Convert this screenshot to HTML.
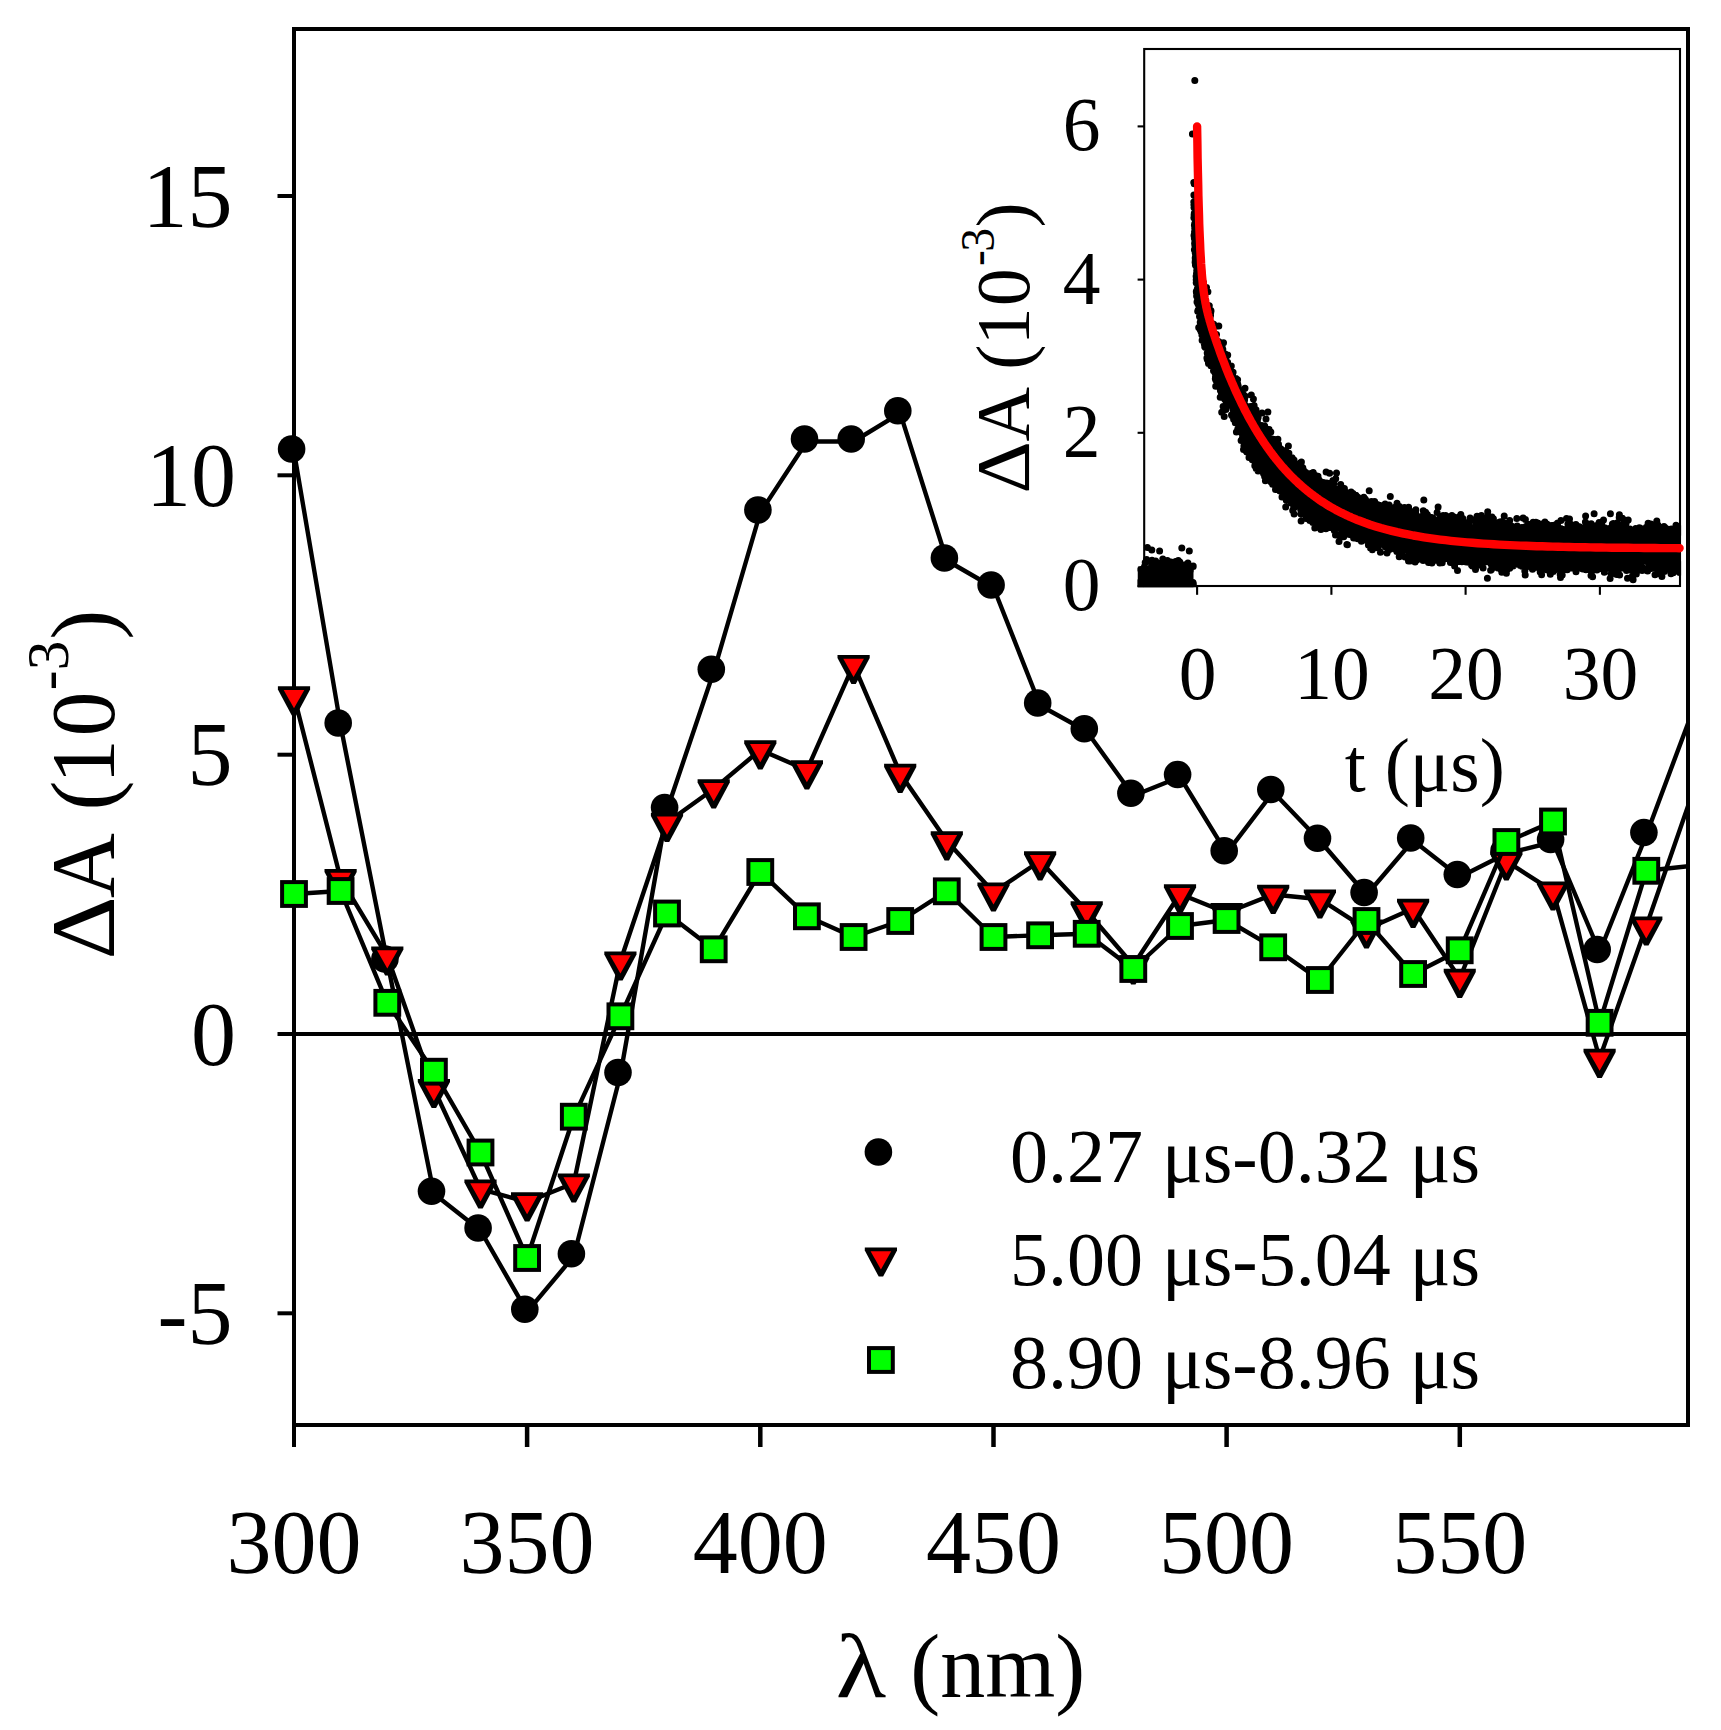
<!DOCTYPE html>
<html lang="en"><head><meta charset="utf-8"><title>Transient absorption spectra</title>
<style>html,body{margin:0;padding:0;background:#fff}svg{display:block}text{font-family:"Liberation Serif", "DejaVu Serif", serif;fill:#000}</style></head><body>
<svg width="1721" height="1730" viewBox="0 0 1721 1730">
<rect width="1721" height="1730" fill="#fff"/>
<defs>
<clipPath id="cm"><rect x="270.0" y="29.0" width="1418.0" height="1396.0"/></clipPath>
<clipPath id="ci"><rect x="1137.5" y="40" width="543.6" height="547.2"/></clipPath>
</defs>
<g stroke="#000" fill="none">
<rect x="294.0" y="29.0" width="1394.0" height="1396.0" stroke-width="4"/>
<line x1="277.5" y1="196.0" x2="294.0" y2="196.0" stroke-width="4"/>
<line x1="277.5" y1="475.3" x2="294.0" y2="475.3" stroke-width="4"/>
<line x1="277.5" y1="754.7" x2="294.0" y2="754.7" stroke-width="4"/>
<line x1="277.5" y1="1034.0" x2="294.0" y2="1034.0" stroke-width="4"/>
<line x1="277.5" y1="1313.3" x2="294.0" y2="1313.3" stroke-width="4"/>
<line x1="294.0" y1="1425.0" x2="294.0" y2="1447" stroke-width="4.0"/>
<line x1="527.1" y1="1425.0" x2="527.1" y2="1447" stroke-width="4.5"/>
<line x1="760.3" y1="1425.0" x2="760.3" y2="1447" stroke-width="4.5"/>
<line x1="993.5" y1="1425.0" x2="993.5" y2="1447" stroke-width="4.5"/>
<line x1="1226.6" y1="1425.0" x2="1226.6" y2="1447" stroke-width="4.5"/>
<line x1="1459.8" y1="1425.0" x2="1459.8" y2="1447" stroke-width="4.5"/>
</g>
<g clip-path="url(#cm)">
<line x1="294.0" y1="1034.0" x2="1688.0" y2="1034.0" stroke="#000" stroke-width="4"/>
<polyline points="294.0,451.5 340.6,725.5 387.3,961.5 433.9,1193.8 480.5,1230.5 527.1,1311.8 573.8,1256.2 620.4,1075.0 667.0,810.0 713.7,671.8 760.3,512.5 806.9,441.5 853.6,441.5 900.2,413.2 946.8,560.5 993.5,587.5 1040.1,705.5 1086.7,731.2 1133.3,795.8 1180.0,777.0 1226.6,853.2 1273.2,792.0 1319.9,840.8 1366.5,895.0 1413.1,840.5 1459.8,877.0 1506.4,853.5 1553.0,842.0 1599.6,952.0 1646.3,835.0 1692.9,710.3" fill="none" stroke="#000" stroke-width="4.4" stroke-linejoin="round"/>
<g fill="#000">
<circle cx="291.6" cy="449.0" r="13.8"/>
<circle cx="338.2" cy="723.0" r="13.8"/>
<circle cx="384.9" cy="959.0" r="13.8"/>
<circle cx="431.5" cy="1191.2" r="13.8"/>
<circle cx="478.1" cy="1228.0" r="13.8"/>
<circle cx="524.8" cy="1309.2" r="13.8"/>
<circle cx="571.4" cy="1253.8" r="13.8"/>
<circle cx="618.0" cy="1072.5" r="13.8"/>
<circle cx="664.6" cy="807.5" r="13.8"/>
<circle cx="711.3" cy="669.2" r="13.8"/>
<circle cx="757.9" cy="510.0" r="13.8"/>
<circle cx="804.5" cy="439.0" r="13.8"/>
<circle cx="851.2" cy="439.0" r="13.8"/>
<circle cx="897.8" cy="410.8" r="13.8"/>
<circle cx="944.4" cy="558.0" r="13.8"/>
<circle cx="991.1" cy="585.0" r="13.8"/>
<circle cx="1037.7" cy="703.0" r="13.8"/>
<circle cx="1084.3" cy="728.8" r="13.8"/>
<circle cx="1130.9" cy="793.2" r="13.8"/>
<circle cx="1177.6" cy="774.5" r="13.8"/>
<circle cx="1224.2" cy="850.8" r="13.8"/>
<circle cx="1270.8" cy="789.5" r="13.8"/>
<circle cx="1317.5" cy="838.2" r="13.8"/>
<circle cx="1364.1" cy="892.5" r="13.8"/>
<circle cx="1410.7" cy="838.0" r="13.8"/>
<circle cx="1457.3" cy="874.5" r="13.8"/>
<circle cx="1504.0" cy="851.0" r="13.8"/>
<circle cx="1550.6" cy="839.5" r="13.8"/>
<circle cx="1597.2" cy="949.5" r="13.8"/>
<circle cx="1643.9" cy="832.5" r="13.8"/>
</g>
<polyline points="294.0,696.0 340.6,878.7 387.3,956.2 433.9,1088.7 480.5,1189.2 527.1,1202.0 573.8,1183.2 620.4,961.2 667.0,822.5 713.7,789.0 760.3,750.0 806.9,770.0 853.6,664.7 900.2,773.5 946.8,841.0 993.5,892.2 1040.1,861.0 1086.7,911.0 1133.3,965.2 1180.0,894.0 1226.6,912.8 1273.2,894.5 1319.9,899.2 1366.5,929.2 1413.1,908.5 1459.8,978.5 1506.4,861.2 1553.0,891.2 1599.6,1058.5 1646.3,926.2 1692.9,792.0" fill="none" stroke="#000" stroke-width="4.4" stroke-linejoin="round"/>
<path d="M277.9 686.2V689.4L291.8 715.4H296.2L310.1 689.4V686.2Z" fill="#000"/><path d="M283.7 690.1H304.3L294.0 708.2Z" fill="#f00"/>
<path d="M324.5 868.9V872.1L338.4 898.1H342.8L356.7 872.1V868.9Z" fill="#000"/><path d="M330.3 872.8H350.9L340.6 891.0Z" fill="#f00"/>
<path d="M371.2 946.4V949.6L385.1 975.6H389.5L403.4 949.6V946.4Z" fill="#000"/><path d="M377.0 950.3H397.6L387.3 968.5Z" fill="#f00"/>
<path d="M417.8 1078.9V1082.1L431.7 1108.1H436.1L450.0 1082.1V1078.9Z" fill="#000"/><path d="M423.6 1082.8H444.2L433.9 1101.0Z" fill="#f00"/>
<path d="M464.4 1179.4V1182.6L478.3 1208.6H482.7L496.6 1182.6V1179.4Z" fill="#000"/><path d="M470.2 1183.3H490.8L480.5 1201.5Z" fill="#f00"/>
<path d="M511.0 1192.2V1195.4L524.9 1221.4H529.4L543.2 1195.4V1192.2Z" fill="#000"/><path d="M516.9 1196.0H537.4L527.1 1214.2Z" fill="#f00"/>
<path d="M557.7 1173.4V1176.6L571.6 1202.6H576.0L589.9 1176.6V1173.4Z" fill="#000"/><path d="M563.5 1177.3H584.1L573.8 1195.5Z" fill="#f00"/>
<path d="M604.3 951.4V954.6L618.2 980.6H622.6L636.5 954.6V951.4Z" fill="#000"/><path d="M610.1 955.3H630.7L620.4 973.5Z" fill="#f00"/>
<path d="M650.9 812.7V815.9L664.8 841.9H669.2L683.1 815.9V812.7Z" fill="#000"/><path d="M656.7 816.6H677.3L667.0 834.8Z" fill="#f00"/>
<path d="M697.6 779.2V782.4L711.5 808.4H715.9L729.8 782.4V779.2Z" fill="#000"/><path d="M703.4 783.1H724.0L713.7 801.2Z" fill="#f00"/>
<path d="M744.2 740.2V743.4L758.1 769.4H762.5L776.4 743.4V740.2Z" fill="#000"/><path d="M750.0 744.1H770.6L760.3 762.2Z" fill="#f00"/>
<path d="M790.8 760.2V763.4L804.7 789.4H809.1L823.0 763.4V760.2Z" fill="#000"/><path d="M796.6 764.1H817.2L806.9 782.2Z" fill="#f00"/>
<path d="M837.5 654.9V658.1L851.4 684.1H855.8L869.7 658.1V654.9Z" fill="#000"/><path d="M843.3 658.8H863.9L853.6 677.0Z" fill="#f00"/>
<path d="M884.1 763.7V766.9L898.0 792.9H902.4L916.3 766.9V763.7Z" fill="#000"/><path d="M889.9 767.6H910.5L900.2 785.8Z" fill="#f00"/>
<path d="M930.7 831.2V834.4L944.6 860.4H949.0L962.9 834.4V831.2Z" fill="#000"/><path d="M936.5 835.1H957.1L946.8 853.2Z" fill="#f00"/>
<path d="M977.4 882.4V885.6L991.2 911.6H995.7L1009.6 885.6V882.4Z" fill="#000"/><path d="M983.2 886.3H1003.8L993.5 904.5Z" fill="#f00"/>
<path d="M1024.0 851.2V854.4L1037.9 880.4H1042.3L1056.2 854.4V851.2Z" fill="#000"/><path d="M1029.8 855.1H1050.4L1040.1 873.2Z" fill="#f00"/>
<path d="M1070.6 901.2V904.4L1084.5 930.4H1088.9L1102.8 904.4V901.2Z" fill="#000"/><path d="M1076.4 905.1H1097.0L1086.7 923.2Z" fill="#f00"/>
<path d="M1117.2 955.4V958.6L1131.1 984.6H1135.5L1149.4 958.6V955.4Z" fill="#000"/><path d="M1123.0 959.3H1143.6L1133.3 977.5Z" fill="#f00"/>
<path d="M1163.9 884.2V887.4L1177.8 913.4H1182.2L1196.1 887.4V884.2Z" fill="#000"/><path d="M1169.7 888.1H1190.3L1180.0 906.2Z" fill="#f00"/>
<path d="M1210.5 903.0V906.2L1224.4 932.2H1228.8L1242.7 906.2V903.0Z" fill="#000"/><path d="M1216.3 906.9H1236.9L1226.6 925.1Z" fill="#f00"/>
<path d="M1257.1 884.7V887.9L1271.0 913.9H1275.4L1289.3 887.9V884.7Z" fill="#000"/><path d="M1262.9 888.6H1283.5L1273.2 906.8Z" fill="#f00"/>
<path d="M1303.8 889.4V892.6L1317.7 918.6H1322.1L1336.0 892.6V889.4Z" fill="#000"/><path d="M1309.6 893.3H1330.2L1319.9 911.5Z" fill="#f00"/>
<path d="M1350.4 919.4V922.6L1364.3 948.6H1368.7L1382.6 922.6V919.4Z" fill="#000"/><path d="M1356.2 923.3H1376.8L1366.5 941.5Z" fill="#f00"/>
<path d="M1397.0 898.7V901.9L1410.9 927.9H1415.3L1429.2 901.9V898.7Z" fill="#000"/><path d="M1402.8 902.6H1423.4L1413.1 920.8Z" fill="#f00"/>
<path d="M1443.7 968.7V971.9L1457.5 997.9H1462.0L1475.8 971.9V968.7Z" fill="#000"/><path d="M1449.5 972.6H1470.0L1459.8 990.8Z" fill="#f00"/>
<path d="M1490.3 851.4V854.6L1504.2 880.6H1508.6L1522.5 854.6V851.4Z" fill="#000"/><path d="M1496.1 855.3H1516.7L1506.4 873.5Z" fill="#f00"/>
<path d="M1536.9 881.4V884.6L1550.8 910.6H1555.2L1569.1 884.6V881.4Z" fill="#000"/><path d="M1542.7 885.3H1563.3L1553.0 903.5Z" fill="#f00"/>
<path d="M1583.5 1048.7V1051.9L1597.4 1077.9H1601.8L1615.7 1051.9V1048.7Z" fill="#000"/><path d="M1589.3 1052.5H1609.9L1599.6 1070.8Z" fill="#f00"/>
<path d="M1630.2 916.4V919.6L1644.1 945.6H1648.5L1662.4 919.6V916.4Z" fill="#000"/><path d="M1636.0 920.3H1656.6L1646.3 938.5Z" fill="#f00"/>
<polyline points="294.0,894.0 340.6,891.0 387.3,1002.8 433.9,1071.8 480.5,1152.5 527.1,1258.0 573.8,1116.8 620.4,1016.2 667.0,913.5 713.7,949.2 760.3,872.0 806.9,916.2 853.6,937.0 900.2,921.0 946.8,891.2 993.5,937.0 1040.1,935.2 1086.7,933.8 1133.3,969.0 1180.0,926.0 1226.6,920.0 1273.2,947.2 1319.9,980.0 1366.5,921.0 1413.1,974.0 1459.8,950.2 1506.4,842.0 1553.0,821.5 1599.6,1022.8 1646.3,870.8 1692.9,865.8" fill="none" stroke="#000" stroke-width="4.4" stroke-linejoin="round"/>
<g fill="#0f0" stroke="#000" stroke-width="4">
<rect x="282.1" y="882.1" width="23.8" height="23.8"/>
<rect x="328.7" y="879.1" width="23.8" height="23.8"/>
<rect x="375.4" y="990.9" width="23.8" height="23.8"/>
<rect x="422.0" y="1059.8" width="23.8" height="23.8"/>
<rect x="468.6" y="1140.6" width="23.8" height="23.8"/>
<rect x="515.2" y="1246.1" width="23.8" height="23.8"/>
<rect x="561.9" y="1104.8" width="23.8" height="23.8"/>
<rect x="608.5" y="1004.4" width="23.8" height="23.8"/>
<rect x="655.1" y="901.6" width="23.8" height="23.8"/>
<rect x="701.8" y="937.4" width="23.8" height="23.8"/>
<rect x="748.4" y="860.1" width="23.8" height="23.8"/>
<rect x="795.0" y="904.4" width="23.8" height="23.8"/>
<rect x="841.7" y="925.1" width="23.8" height="23.8"/>
<rect x="888.3" y="909.1" width="23.8" height="23.8"/>
<rect x="934.9" y="879.4" width="23.8" height="23.8"/>
<rect x="981.6" y="925.1" width="23.8" height="23.8"/>
<rect x="1028.2" y="923.4" width="23.8" height="23.8"/>
<rect x="1074.8" y="921.9" width="23.8" height="23.8"/>
<rect x="1121.4" y="957.1" width="23.8" height="23.8"/>
<rect x="1168.1" y="914.1" width="23.8" height="23.8"/>
<rect x="1214.7" y="908.1" width="23.8" height="23.8"/>
<rect x="1261.3" y="935.4" width="23.8" height="23.8"/>
<rect x="1308.0" y="968.1" width="23.8" height="23.8"/>
<rect x="1354.6" y="909.1" width="23.8" height="23.8"/>
<rect x="1401.2" y="962.1" width="23.8" height="23.8"/>
<rect x="1447.8" y="938.4" width="23.8" height="23.8"/>
<rect x="1494.5" y="830.1" width="23.8" height="23.8"/>
<rect x="1541.1" y="809.6" width="23.8" height="23.8"/>
<rect x="1587.7" y="1010.9" width="23.8" height="23.8"/>
<rect x="1634.4" y="858.9" width="23.8" height="23.8"/>
</g>
</g>
<g font-size="90.0">
<text x="232.5" y="226.5" text-anchor="end">15</text>
<text x="235.9" y="505.8" text-anchor="end">10</text>
<text x="232.5" y="785.2" text-anchor="end">5</text>
<text x="235.9" y="1064.5" text-anchor="end">0</text>
<text x="232.5" y="1343.8" text-anchor="end">-5</text>
<text x="294.0" y="1573.0" text-anchor="middle">300</text>
<text x="527.1" y="1573.0" text-anchor="middle">350</text>
<text x="760.3" y="1573.0" text-anchor="middle">400</text>
<text x="993.5" y="1573.0" text-anchor="middle">450</text>
<text x="1226.6" y="1573.0" text-anchor="middle">500</text>
<text x="1459.8" y="1573.0" text-anchor="middle">550</text>
<text y="1696.7"><tspan x="835.8" textLength="50.4" lengthAdjust="spacingAndGlyphs">λ</tspan><tspan x="887.7"> (nm)</tspan></text>
<text transform="translate(114.4 784.4) rotate(-90)"><tspan x="-175.1" textLength="63.1" lengthAdjust="spacingAndGlyphs">Δ</tspan><tspan x="-113.6">A</tspan><tspan x="-48.5 -26.0 0.4 47.8"> (10</tspan><tspan x="94.1 114.2" dy="-46.8" font-size="59.4">-3</tspan><tspan x="144.6" dy="46.8">)</tspan></text>
</g>
<circle cx="878.4" cy="1152" r="13.8" fill="#000"/>
<path d="M864.8 1247.4V1250.6L878.7 1276.6H883.1L897.0 1250.6V1247.4Z" fill="#000"/><path d="M870.6 1251.3H891.2L880.9 1269.5Z" fill="#f00"/>
<rect x="869" y="1348.1" width="23.8" height="23.8" fill="#0f0" stroke="#000" stroke-width="4"/>
<g font-size="76.0">
<text x="1010.0" y="1182.3" textLength="470.0" lengthAdjust="spacingAndGlyphs">0.27 μs-0.32 μs</text>
<text x="1010.0" y="1285.1" textLength="470.0" lengthAdjust="spacingAndGlyphs">5.00 μs-5.04 μs</text>
<text x="1010.0" y="1387.9" textLength="470.0" lengthAdjust="spacingAndGlyphs">8.90 μs-8.96 μs</text>
</g>
<g stroke="#000" fill="none" stroke-width="2.1">
<rect x="1144.2" y="49.0" width="535.8" height="537.0"/>
<line x1="1137.6" y1="586.0" x2="1144.2" y2="586.0"/>
<line x1="1137.6" y1="432.8" x2="1144.2" y2="432.8"/>
<line x1="1137.6" y1="279.6" x2="1144.2" y2="279.6"/>
<line x1="1137.6" y1="126.4" x2="1144.2" y2="126.4"/>
<line x1="1197.1" y1="586.0" x2="1197.1" y2="594.8"/>
<line x1="1331.4" y1="586.0" x2="1331.4" y2="594.8"/>
<line x1="1465.6" y1="586.0" x2="1465.6" y2="594.8"/>
<line x1="1599.9" y1="586.0" x2="1599.9" y2="594.8"/>
</g>
<g clip-path="url(#ci)">
<polygon points="1206.5,302.1 1208.1,309.4 1209.7,314.5 1211.3,318.6 1212.9,324.0 1214.6,328.6 1216.2,332.5 1217.8,335.5 1219.4,341.7 1221.0,345.3 1222.6,349.8 1224.2,353.2 1225.8,355.7 1227.4,360.2 1229.1,365.3 1230.7,367.3 1232.3,371.9 1233.9,375.7 1235.5,378.5 1237.1,382.7 1238.7,384.8 1240.3,389.4 1241.9,392.1 1243.6,396.1 1245.2,397.9 1246.8,402.0 1248.4,403.3 1250.0,406.2 1251.6,410.8 1253.2,413.1 1254.8,415.5 1256.4,417.2 1258.1,419.6 1259.7,423.5 1261.3,424.9 1262.9,426.2 1264.5,429.7 1266.1,433.3 1267.7,433.8 1269.3,436.1 1270.9,439.4 1272.6,440.9 1274.2,442.3 1275.8,444.2 1277.4,446.2 1279.0,446.3 1280.6,449.8 1282.2,450.9 1283.8,452.1 1285.4,456.1 1287.1,456.1 1288.7,457.3 1290.3,458.6 1291.9,460.2 1293.5,462.9 1295.1,464.4 1296.7,465.2 1298.3,467.9 1300.0,466.7 1301.6,468.1 1303.2,470.4 1304.8,471.9 1306.4,473.4 1308.0,473.4 1309.6,474.4 1311.2,476.4 1312.8,477.2 1314.5,480.2 1316.1,480.9 1317.7,481.5 1319.3,482.4 1320.9,483.6 1322.5,485.0 1324.1,486.3 1325.7,486.7 1327.3,488.0 1329.0,486.4 1330.6,489.9 1332.2,488.7 1333.8,488.9 1335.4,492.3 1337.0,493.2 1338.6,492.5 1340.2,494.8 1341.8,495.4 1343.5,493.6 1345.1,497.0 1346.7,497.3 1348.3,497.5 1349.9,498.3 1351.5,498.8 1353.1,498.8 1354.7,500.3 1356.3,500.0 1358.0,501.7 1359.6,500.0 1361.2,501.3 1362.8,502.4 1364.4,502.0 1366.0,505.0 1367.6,505.6 1369.2,504.8 1370.8,503.8 1372.5,507.0 1374.1,507.4 1375.7,507.8 1377.3,508.5 1378.9,508.9 1380.5,507.2 1382.1,508.3 1383.7,508.6 1385.3,508.1 1387.0,510.8 1388.6,509.0 1390.2,509.4 1391.8,512.0 1393.4,512.8 1395.0,512.8 1396.6,513.5 1398.2,512.5 1399.8,512.0 1401.5,512.8 1403.1,513.8 1404.7,513.3 1406.3,515.3 1407.9,514.1 1409.5,515.3 1411.1,517.1 1412.7,517.4 1414.3,517.4 1416.0,518.1 1417.6,517.8 1419.2,517.3 1420.8,516.5 1422.4,516.4 1424.0,519.6 1425.6,518.8 1427.2,520.1 1428.9,518.2 1430.5,517.8 1432.1,519.0 1433.7,520.8 1435.3,521.0 1436.9,520.4 1438.5,521.4 1440.1,520.1 1441.7,521.8 1443.4,520.9 1445.0,522.5 1446.6,522.3 1448.2,521.7 1449.8,523.1 1451.4,520.9 1453.0,523.5 1454.6,521.5 1456.2,522.1 1457.9,523.1 1459.5,522.9 1461.1,522.3 1462.7,525.0 1464.3,523.3 1465.9,523.0 1467.5,525.1 1469.1,524.3 1470.7,525.9 1472.4,525.4 1474.0,525.9 1475.6,524.3 1477.2,525.1 1478.8,524.5 1480.4,526.1 1482.0,524.7 1483.6,526.2 1485.2,525.6 1486.9,526.2 1488.5,527.3 1490.1,526.8 1491.7,525.7 1493.3,526.6 1494.9,525.7 1496.5,526.6 1498.1,527.8 1499.7,526.0 1501.4,527.2 1503.0,528.1 1504.6,527.6 1506.2,527.2 1507.8,527.0 1509.4,527.9 1511.0,528.9 1512.6,527.4 1514.2,528.4 1515.9,527.6 1517.5,529.4 1519.1,527.2 1520.7,528.6 1522.3,527.0 1523.9,529.6 1525.5,528.6 1527.1,528.1 1528.7,529.2 1530.4,528.7 1532.0,529.3 1533.6,527.5 1535.2,528.5 1536.8,530.0 1538.4,527.8 1540.0,528.3 1541.6,528.6 1543.2,528.8 1544.9,529.1 1546.5,528.2 1548.1,529.2 1549.7,530.0 1551.3,528.9 1552.9,529.7 1554.5,529.0 1556.1,528.2 1557.7,529.7 1559.4,528.2 1561.0,527.9 1562.6,529.1 1564.2,530.3 1565.8,530.7 1567.4,530.3 1569.0,529.1 1570.6,530.9 1572.3,528.6 1573.9,528.7 1575.5,531.1 1577.1,529.3 1578.7,530.8 1580.3,530.2 1581.9,529.9 1583.5,530.6 1585.1,529.3 1586.8,528.8 1588.4,530.8 1590.0,530.5 1591.6,531.0 1593.2,530.1 1594.8,531.3 1596.4,529.3 1598.0,530.4 1599.6,531.4 1601.3,528.7 1602.9,531.1 1604.5,530.5 1606.1,529.0 1607.7,529.8 1609.3,529.9 1610.9,529.9 1612.5,529.1 1614.1,530.9 1615.8,529.3 1617.4,530.7 1619.0,529.6 1620.6,529.0 1622.2,530.5 1623.8,529.4 1625.4,531.2 1627.0,531.7 1628.6,531.4 1630.3,530.7 1631.9,529.9 1633.5,529.9 1635.1,531.8 1636.7,529.7 1638.3,528.9 1639.9,530.3 1641.5,530.5 1643.1,530.6 1644.8,529.6 1646.4,530.1 1648.0,531.6 1649.6,531.4 1651.2,529.9 1652.8,530.2 1654.4,529.4 1656.0,530.9 1657.6,530.7 1659.3,529.4 1660.9,529.0 1662.5,529.1 1664.1,531.2 1665.7,530.8 1667.3,529.1 1668.9,531.8 1670.5,529.5 1672.1,530.7 1673.8,531.7 1675.4,529.8 1677.0,530.0 1678.6,531.0 1680.2,529.8 1680.2,565.4 1678.6,566.6 1677.0,564.6 1675.4,566.6 1673.8,564.8 1672.1,566.0 1670.5,564.8 1668.9,566.1 1667.3,566.7 1665.7,566.6 1664.1,565.4 1662.5,566.1 1660.9,566.9 1659.3,564.5 1657.6,564.2 1656.0,565.6 1654.4,566.0 1652.8,564.5 1651.2,566.8 1649.6,564.8 1648.0,566.0 1646.4,565.5 1644.8,564.5 1643.1,565.5 1641.5,564.6 1639.9,565.9 1638.3,567.0 1636.7,564.6 1635.1,565.7 1633.5,565.5 1631.9,566.2 1630.3,564.3 1628.6,566.4 1627.0,565.7 1625.4,565.5 1623.8,566.5 1622.2,565.4 1620.6,565.7 1619.0,566.4 1617.4,565.3 1615.8,565.4 1614.1,565.1 1612.5,565.3 1610.9,565.9 1609.3,565.3 1607.7,565.6 1606.1,564.4 1604.5,566.6 1602.9,565.3 1601.3,566.6 1599.6,565.5 1598.0,564.3 1596.4,564.7 1594.8,566.4 1593.2,566.2 1591.6,566.5 1590.0,566.2 1588.4,565.1 1586.8,566.2 1585.1,564.4 1583.5,566.4 1581.9,563.5 1580.3,564.4 1578.7,563.4 1577.1,565.7 1575.5,565.3 1573.9,564.5 1572.3,565.1 1570.6,565.8 1569.0,565.1 1567.4,565.7 1565.8,564.2 1564.2,564.1 1562.6,565.1 1561.0,563.4 1559.4,564.9 1557.7,563.8 1556.1,565.8 1554.5,565.4 1552.9,565.5 1551.3,565.7 1549.7,565.0 1548.1,565.4 1546.5,563.5 1544.9,563.5 1543.2,563.7 1541.6,564.6 1540.0,563.4 1538.4,564.8 1536.8,563.8 1535.2,563.7 1533.6,564.7 1532.0,565.3 1530.4,565.0 1528.7,565.2 1527.1,564.6 1525.5,563.8 1523.9,564.3 1522.3,563.1 1520.7,562.6 1519.1,562.1 1517.5,561.9 1515.9,564.3 1514.2,564.5 1512.6,562.8 1511.0,563.7 1509.4,563.2 1507.8,563.9 1506.2,562.9 1504.6,561.6 1503.0,563.3 1501.4,563.6 1499.7,561.2 1498.1,563.3 1496.5,563.1 1494.9,563.3 1493.3,561.8 1491.7,561.9 1490.1,560.7 1488.5,560.8 1486.9,562.8 1485.2,563.0 1483.6,563.2 1482.0,562.4 1480.4,561.2 1478.8,560.7 1477.2,560.5 1475.6,560.1 1474.0,560.5 1472.4,561.1 1470.7,562.1 1469.1,562.2 1467.5,561.5 1465.9,559.0 1464.3,560.4 1462.7,561.7 1461.1,560.2 1459.5,559.4 1457.9,558.5 1456.2,559.2 1454.6,560.0 1453.0,558.3 1451.4,558.5 1449.8,559.4 1448.2,559.9 1446.6,559.8 1445.0,559.1 1443.4,558.6 1441.7,559.4 1440.1,558.5 1438.5,557.5 1436.9,556.6 1435.3,556.1 1433.7,557.5 1432.1,555.9 1430.5,558.2 1428.9,555.8 1427.2,555.1 1425.6,555.9 1424.0,556.6 1422.4,556.3 1420.8,556.1 1419.2,555.2 1417.6,553.4 1416.0,554.1 1414.3,553.6 1412.7,553.8 1411.1,553.8 1409.5,555.1 1407.9,552.4 1406.3,552.2 1404.7,553.0 1403.1,553.3 1401.5,551.1 1399.8,553.3 1398.2,551.3 1396.6,551.2 1395.0,550.0 1393.4,549.4 1391.8,549.0 1390.2,551.0 1388.6,549.9 1387.0,547.5 1385.3,549.4 1383.7,547.2 1382.1,546.7 1380.5,548.0 1378.9,547.7 1377.3,546.4 1375.7,546.7 1374.1,545.8 1372.5,544.7 1370.8,543.9 1369.2,542.9 1367.6,542.8 1366.0,541.7 1364.4,541.8 1362.8,541.5 1361.2,542.9 1359.6,540.7 1358.0,540.7 1356.3,540.4 1354.7,540.7 1353.1,537.9 1351.5,537.7 1349.9,538.2 1348.3,537.5 1346.7,536.9 1345.1,535.0 1343.5,533.8 1341.8,534.3 1340.2,534.5 1338.6,531.4 1337.0,531.7 1335.4,532.3 1333.8,529.9 1332.2,528.9 1330.6,527.3 1329.0,527.1 1327.3,527.7 1325.7,525.1 1324.1,525.5 1322.5,524.4 1320.9,522.8 1319.3,521.1 1317.7,520.7 1316.1,518.6 1314.5,517.7 1312.8,517.9 1311.2,517.9 1309.6,516.9 1308.0,515.8 1306.4,512.2 1304.8,511.2 1303.2,509.4 1301.6,508.9 1300.0,508.5 1298.3,507.0 1296.7,506.6 1295.1,505.0 1293.5,502.5 1291.9,502.5 1290.3,498.4 1288.7,498.7 1287.1,497.0 1285.4,495.2 1283.8,493.8 1282.2,492.9 1280.6,489.7 1279.0,489.2 1277.4,487.6 1275.8,485.7 1274.2,483.9 1272.6,482.2 1270.9,478.3 1269.3,475.9 1267.7,475.1 1266.1,473.2 1264.5,470.1 1262.9,469.4 1261.3,465.9 1259.7,462.9 1258.1,460.7 1256.4,459.6 1254.8,456.0 1253.2,455.0 1251.6,451.1 1250.0,448.1 1248.4,447.2 1246.8,444.0 1245.2,439.4 1243.6,437.2 1241.9,434.6 1240.3,431.2 1238.7,428.2 1237.1,426.8 1235.5,423.8 1233.9,419.7 1232.3,415.3 1230.7,414.1 1229.1,408.1 1227.4,405.5 1225.8,402.2 1224.2,398.4 1222.6,394.2 1221.0,388.9 1219.4,385.1 1217.8,383.6 1216.2,379.1 1214.6,374.1 1212.9,369.4 1211.3,364.7 1209.7,360.8 1208.1,354.1 1206.5,349.6" fill="#000"/>
<rect x="1137.5" y="568.4" width="56.0" height="20" fill="#000"/>
<path d="M1139.4 588.5h.01M1139.4 588.2h.01M1139.5 589.0h.01M1139.6 588.1h.01M1139.7 583.6h.01M1139.8 582.2h.01M1139.8 584.2h.01M1140.1 590.5h.01M1140.1 583.1h.01M1140.2 586.4h.01M1140.3 583.0h.01M1140.3 582.2h.01M1140.4 569.4h.01M1140.5 592.0h.01M1140.6 589.3h.01M1140.6 587.0h.01M1140.7 583.6h.01M1140.8 590.3h.01M1140.8 591.0h.01M1141.0 583.6h.01M1141.1 585.5h.01M1141.2 589.1h.01M1141.2 587.0h.01M1141.3 586.6h.01M1141.6 582.5h.01M1141.6 584.8h.01M1141.7 591.9h.01M1141.8 590.4h.01M1141.9 591.1h.01M1142.0 583.7h.01M1142.2 582.6h.01M1142.4 584.5h.01M1142.5 583.6h.01M1142.5 570.6h.01M1143.0 587.8h.01M1143.1 570.5h.01M1143.2 587.4h.01M1143.2 582.9h.01M1143.3 584.8h.01M1143.4 590.0h.01M1143.5 585.7h.01M1143.7 590.3h.01M1143.7 587.3h.01M1143.8 587.4h.01M1143.8 588.9h.01M1144.2 582.7h.01M1144.2 584.6h.01M1144.2 584.5h.01M1144.3 587.7h.01M1144.4 583.3h.01M1144.4 586.0h.01M1144.5 566.6h.01M1144.6 582.9h.01M1144.6 590.1h.01M1144.7 589.6h.01M1144.7 586.1h.01M1144.8 589.2h.01M1144.8 582.3h.01M1144.9 568.3h.01M1145.0 583.6h.01M1145.1 583.7h.01M1145.1 590.2h.01M1145.2 583.3h.01M1145.2 591.0h.01M1145.2 562.5h.01M1145.3 582.6h.01M1145.3 591.3h.01M1145.4 587.0h.01M1145.4 588.2h.01M1145.4 586.6h.01M1145.5 590.7h.01M1145.6 586.6h.01M1145.8 589.4h.01M1145.9 589.3h.01M1146.2 584.3h.01M1146.3 587.4h.01M1146.3 584.2h.01M1146.4 584.6h.01M1146.4 586.9h.01M1146.5 588.8h.01M1146.6 559.5h.01M1146.7 588.6h.01M1146.7 584.7h.01M1146.8 583.9h.01M1147.3 586.0h.01M1147.4 570.7h.01M1147.5 587.7h.01M1147.6 586.9h.01M1147.7 591.8h.01M1148.0 587.7h.01M1148.1 584.9h.01M1148.1 584.8h.01M1148.2 588.5h.01M1148.3 589.7h.01M1148.4 582.9h.01M1148.5 591.9h.01M1148.5 586.1h.01M1148.6 585.2h.01M1148.7 586.6h.01M1148.8 570.5h.01M1149.1 586.1h.01M1149.1 587.9h.01M1149.2 586.3h.01M1149.2 591.7h.01M1149.2 583.7h.01M1149.3 568.7h.01M1149.3 585.6h.01M1149.4 587.9h.01M1149.5 591.4h.01M1149.6 591.8h.01M1149.7 585.9h.01M1149.8 584.4h.01M1150.0 591.5h.01M1150.2 587.1h.01M1150.2 582.5h.01M1150.3 582.8h.01M1150.5 588.7h.01M1150.6 583.2h.01M1150.6 590.4h.01M1150.8 582.8h.01M1151.1 588.9h.01M1151.1 590.5h.01M1151.1 567.3h.01M1151.2 562.6h.01M1151.4 567.8h.01M1151.4 587.2h.01M1151.6 586.9h.01M1151.6 583.2h.01M1151.7 586.3h.01M1151.7 587.9h.01M1151.8 589.5h.01M1151.9 585.0h.01M1152.0 560.3h.01M1152.2 569.7h.01M1152.3 586.7h.01M1152.4 582.9h.01M1152.6 568.5h.01M1152.7 583.2h.01M1152.7 584.2h.01M1152.8 589.8h.01M1152.8 565.5h.01M1153.0 569.6h.01M1153.1 568.4h.01M1153.2 583.5h.01M1153.3 586.6h.01M1153.4 587.2h.01M1153.5 582.4h.01M1153.6 584.0h.01M1153.6 589.1h.01M1153.7 585.5h.01M1153.8 586.0h.01M1153.8 587.1h.01M1153.9 584.5h.01M1153.9 586.0h.01M1154.0 584.3h.01M1154.0 587.3h.01M1154.2 587.8h.01M1154.3 585.4h.01M1154.6 589.7h.01M1154.8 584.3h.01M1154.9 586.2h.01M1155.0 570.0h.01M1155.2 587.4h.01M1155.2 588.9h.01M1155.4 588.0h.01M1155.4 561.4h.01M1155.5 588.1h.01M1155.5 585.1h.01M1155.6 561.0h.01M1155.6 589.3h.01M1155.7 585.9h.01M1155.8 584.2h.01M1155.9 582.5h.01M1156.0 585.8h.01M1156.1 584.0h.01M1156.1 585.5h.01M1156.2 588.3h.01M1156.3 586.0h.01M1156.4 590.2h.01M1156.6 586.5h.01M1156.6 588.2h.01M1156.7 568.4h.01M1156.9 587.8h.01M1157.1 586.5h.01M1157.3 585.7h.01M1157.4 583.6h.01M1157.6 590.9h.01M1157.7 586.8h.01M1157.7 585.9h.01M1157.9 586.2h.01M1157.9 587.9h.01M1158.0 589.0h.01M1158.0 586.6h.01M1158.1 582.6h.01M1158.2 586.8h.01M1158.3 587.7h.01M1158.4 585.6h.01M1158.4 584.1h.01M1158.5 584.6h.01M1158.6 588.4h.01M1158.6 589.0h.01M1158.7 586.4h.01M1158.8 587.4h.01M1158.8 586.6h.01M1158.9 583.2h.01M1159.0 589.6h.01M1159.1 587.1h.01M1159.2 590.7h.01M1159.2 585.0h.01M1159.3 590.0h.01M1159.3 563.6h.01M1159.4 589.1h.01M1159.4 584.8h.01M1159.6 583.6h.01M1159.7 563.4h.01M1159.7 582.9h.01M1159.9 587.5h.01M1160.1 583.6h.01M1160.1 565.5h.01M1160.2 588.2h.01M1160.2 585.8h.01M1160.3 585.7h.01M1160.4 583.5h.01M1160.5 569.1h.01M1160.6 569.9h.01M1160.6 585.8h.01M1160.6 583.4h.01M1160.7 590.1h.01M1160.8 590.6h.01M1161.0 586.1h.01M1161.1 586.5h.01M1161.2 583.0h.01M1161.3 591.0h.01M1161.3 564.0h.01M1161.3 586.0h.01M1161.5 586.4h.01M1161.5 568.8h.01M1161.8 590.4h.01M1161.8 586.6h.01M1161.8 589.0h.01M1161.9 587.2h.01M1162.0 585.8h.01M1162.0 586.7h.01M1162.1 583.0h.01M1162.2 588.2h.01M1162.2 584.5h.01M1162.3 590.7h.01M1162.4 587.1h.01M1162.4 590.5h.01M1162.5 589.4h.01M1162.6 583.2h.01M1162.7 565.7h.01M1162.8 585.9h.01M1162.8 559.0h.01M1162.9 591.0h.01M1162.9 584.4h.01M1163.0 584.5h.01M1163.0 588.3h.01M1163.1 582.5h.01M1163.1 585.5h.01M1163.3 586.0h.01M1163.6 583.0h.01M1163.6 587.0h.01M1163.7 586.3h.01M1163.8 591.1h.01M1163.8 587.0h.01M1164.0 568.0h.01M1164.0 591.4h.01M1164.1 584.6h.01M1164.1 587.5h.01M1164.2 582.9h.01M1164.3 586.2h.01M1164.3 586.1h.01M1164.6 587.3h.01M1164.6 582.5h.01M1164.7 588.0h.01M1164.8 591.5h.01M1164.9 582.8h.01M1165.0 569.7h.01M1165.1 583.6h.01M1165.1 564.4h.01M1165.1 591.0h.01M1165.4 583.2h.01M1165.4 583.6h.01M1165.5 588.0h.01M1165.5 591.2h.01M1165.6 587.1h.01M1165.6 586.8h.01M1165.7 589.4h.01M1165.8 589.5h.01M1165.9 585.3h.01M1166.0 589.7h.01M1166.1 586.7h.01M1166.1 584.1h.01M1166.2 585.8h.01M1166.3 582.4h.01M1166.4 585.6h.01M1166.4 583.5h.01M1166.5 591.3h.01M1166.5 588.6h.01M1166.6 591.8h.01M1166.7 586.2h.01M1166.8 587.6h.01M1166.8 583.0h.01M1166.9 583.1h.01M1167.0 569.9h.01M1167.0 563.2h.01M1167.1 585.8h.01M1167.2 584.3h.01M1167.4 560.6h.01M1167.5 584.0h.01M1167.5 583.5h.01M1167.6 582.4h.01M1167.6 569.9h.01M1167.7 589.6h.01M1167.8 589.6h.01M1167.9 565.2h.01M1167.9 586.1h.01M1168.0 588.5h.01M1168.0 590.8h.01M1168.2 585.6h.01M1168.2 585.4h.01M1168.2 587.7h.01M1168.4 587.4h.01M1168.4 587.5h.01M1168.7 582.7h.01M1168.7 570.5h.01M1168.8 582.8h.01M1168.9 584.1h.01M1168.9 587.4h.01M1169.0 585.7h.01M1169.0 588.8h.01M1169.1 582.6h.01M1169.1 585.2h.01M1169.2 589.6h.01M1169.2 586.4h.01M1169.3 590.1h.01M1169.4 589.5h.01M1169.5 587.2h.01M1169.6 589.1h.01M1169.6 569.8h.01M1169.7 585.6h.01M1169.8 584.0h.01M1169.8 586.7h.01M1169.9 584.9h.01M1169.9 562.9h.01M1170.0 591.6h.01M1170.2 588.7h.01M1170.4 591.4h.01M1170.5 589.9h.01M1170.6 585.2h.01M1170.6 589.8h.01M1170.7 585.9h.01M1170.8 582.5h.01M1170.8 583.4h.01M1170.9 562.0h.01M1170.9 564.7h.01M1171.0 586.4h.01M1171.2 588.6h.01M1171.3 585.0h.01M1171.4 586.2h.01M1171.5 588.5h.01M1171.5 590.2h.01M1171.7 589.8h.01M1171.7 586.5h.01M1171.8 585.9h.01M1171.9 569.5h.01M1172.0 590.1h.01M1172.1 567.7h.01M1172.1 586.3h.01M1172.3 586.3h.01M1172.4 583.2h.01M1172.5 584.0h.01M1172.7 588.2h.01M1172.8 590.0h.01M1172.9 587.0h.01M1172.9 569.3h.01M1173.0 587.5h.01M1173.1 584.1h.01M1173.3 586.4h.01M1173.3 589.8h.01M1173.4 591.3h.01M1173.5 585.4h.01M1173.5 588.7h.01M1173.5 591.6h.01M1173.6 588.5h.01M1173.7 582.6h.01M1173.8 584.3h.01M1173.9 588.7h.01M1173.9 589.2h.01M1174.2 563.7h.01M1174.2 590.8h.01M1174.3 564.6h.01M1174.4 590.2h.01M1174.5 586.9h.01M1174.6 565.2h.01M1174.6 585.2h.01M1174.8 591.6h.01M1174.9 584.6h.01M1174.9 584.9h.01M1175.3 588.9h.01M1175.5 584.4h.01M1175.6 561.4h.01M1175.7 589.2h.01M1175.7 585.7h.01M1175.8 590.3h.01M1175.9 583.4h.01M1175.9 591.1h.01M1176.0 584.5h.01M1176.1 583.1h.01M1176.2 591.4h.01M1176.2 584.1h.01M1176.3 587.1h.01M1176.4 589.2h.01M1176.6 582.8h.01M1176.6 585.9h.01M1176.6 588.7h.01M1176.7 583.5h.01M1176.7 590.1h.01M1176.8 591.8h.01M1176.9 591.9h.01M1177.1 582.6h.01M1177.2 584.0h.01M1177.3 585.5h.01M1177.3 584.6h.01M1177.4 591.9h.01M1177.4 584.4h.01M1177.4 590.5h.01M1177.5 585.2h.01M1177.7 588.8h.01M1177.7 586.2h.01M1177.8 588.6h.01M1177.8 589.0h.01M1177.8 587.7h.01M1177.9 589.2h.01M1177.9 586.2h.01M1178.0 586.2h.01M1178.1 587.6h.01M1178.1 566.0h.01M1178.2 588.0h.01M1178.3 560.4h.01M1178.4 584.8h.01M1178.5 588.9h.01M1178.6 582.4h.01M1178.7 585.8h.01M1178.7 591.7h.01M1178.8 590.7h.01M1178.8 583.8h.01M1178.9 590.9h.01M1179.0 586.3h.01M1179.0 584.0h.01M1179.1 586.3h.01M1179.2 584.6h.01M1179.3 566.8h.01M1179.5 592.0h.01M1179.8 561.9h.01M1179.8 567.4h.01M1179.9 583.8h.01M1180.0 586.8h.01M1180.2 591.6h.01M1180.2 583.9h.01M1180.2 586.1h.01M1180.3 589.0h.01M1180.3 582.9h.01M1180.5 586.2h.01M1180.6 585.5h.01M1180.7 584.8h.01M1180.8 587.6h.01M1180.9 587.2h.01M1181.0 587.7h.01M1181.0 585.9h.01M1181.2 583.9h.01M1181.2 591.5h.01M1181.3 589.5h.01M1181.4 569.0h.01M1181.5 585.8h.01M1181.8 585.0h.01M1181.9 589.4h.01M1182.1 585.8h.01M1182.1 565.1h.01M1182.2 582.8h.01M1182.2 591.9h.01M1182.3 570.3h.01M1182.4 585.1h.01M1182.5 587.9h.01M1182.7 586.6h.01M1182.7 583.7h.01M1182.7 591.5h.01M1182.8 589.0h.01M1182.9 566.7h.01M1182.9 582.9h.01M1183.0 567.4h.01M1183.1 585.3h.01M1183.1 586.3h.01M1183.2 586.5h.01M1183.3 585.3h.01M1183.3 585.7h.01M1183.4 583.3h.01M1183.6 587.8h.01M1183.7 589.4h.01M1183.7 583.2h.01M1183.8 587.3h.01M1183.9 587.5h.01M1183.9 584.8h.01M1184.0 587.2h.01M1184.0 586.5h.01M1184.1 586.9h.01M1184.2 586.2h.01M1184.3 591.9h.01M1184.3 584.6h.01M1184.4 565.0h.01M1184.6 582.5h.01M1184.8 589.5h.01M1184.9 582.8h.01M1185.0 567.3h.01M1185.0 584.6h.01M1185.1 584.2h.01M1185.1 568.6h.01M1185.2 589.0h.01M1185.3 583.2h.01M1185.3 585.5h.01M1185.3 590.8h.01M1185.4 591.2h.01M1185.7 568.2h.01M1185.8 566.1h.01M1186.0 584.1h.01M1186.0 584.3h.01M1186.2 591.4h.01M1186.2 591.8h.01M1186.3 582.5h.01M1186.3 583.4h.01M1186.3 585.7h.01M1186.4 590.3h.01M1186.5 585.0h.01M1186.6 589.1h.01M1186.7 591.7h.01M1186.8 588.6h.01M1186.9 584.1h.01M1187.2 587.6h.01M1187.2 583.3h.01M1187.2 589.2h.01M1187.3 583.5h.01M1187.3 591.3h.01M1187.4 585.9h.01M1187.4 584.0h.01M1187.5 585.7h.01M1187.6 585.1h.01M1187.8 587.5h.01M1187.9 562.9h.01M1187.9 587.4h.01M1188.0 589.5h.01M1188.2 591.5h.01M1188.4 582.8h.01M1188.5 588.6h.01M1188.5 584.3h.01M1188.6 587.4h.01M1188.6 583.9h.01M1188.8 584.9h.01M1188.9 589.2h.01M1189.0 585.7h.01M1189.1 591.0h.01M1189.2 570.6h.01M1189.4 584.1h.01M1189.6 590.7h.01M1189.6 583.1h.01M1189.7 591.4h.01M1189.8 582.8h.01M1189.8 585.9h.01M1189.9 591.7h.01M1189.9 586.8h.01M1190.0 588.9h.01M1190.1 570.6h.01M1190.1 588.4h.01M1190.1 566.2h.01M1190.3 568.9h.01M1190.3 587.7h.01M1190.4 587.1h.01M1190.6 587.9h.01M1190.6 584.4h.01M1190.8 590.0h.01M1191.1 591.6h.01M1191.3 582.7h.01M1191.3 589.5h.01M1191.4 583.7h.01M1191.6 591.2h.01M1191.8 582.9h.01M1191.8 591.0h.01M1191.9 591.3h.01M1192.2 584.3h.01M1192.3 584.3h.01M1192.4 583.1h.01M1192.6 590.3h.01M1192.7 589.9h.01M1192.8 587.1h.01M1193.0 582.4h.01M1193.2 566.0h.01M1193.2 566.6h.01M1193.2 588.0h.01M1193.3 583.4h.01M1193.3 587.5h.01M1193.4 585.2h.01M1193.8 201.9h.01M1193.8 182.4h.01M1193.9 217.7h.01M1193.9 204.7h.01M1193.9 194.9h.01M1194.0 195.2h.01M1194.0 207.4h.01M1194.0 235.6h.01M1194.1 235.9h.01M1194.1 215.0h.01M1194.2 214.2h.01M1194.2 183.8h.01M1194.2 234.7h.01M1194.3 206.8h.01M1194.3 213.3h.01M1194.4 249.8h.01M1194.4 238.5h.01M1194.4 225.3h.01M1194.5 236.0h.01M1194.5 232.1h.01M1194.6 224.1h.01M1194.6 243.6h.01M1194.6 226.2h.01M1194.7 243.1h.01M1194.7 242.7h.01M1194.7 228.2h.01M1194.8 245.1h.01M1194.8 233.7h.01M1194.9 215.8h.01M1194.9 239.2h.01M1194.9 242.6h.01M1195.0 230.9h.01M1195.0 247.5h.01M1195.1 227.7h.01M1195.1 262.3h.01M1195.1 236.1h.01M1195.2 253.0h.01M1195.2 257.9h.01M1195.2 222.2h.01M1195.3 260.2h.01M1195.3 224.0h.01M1195.4 240.4h.01M1195.4 229.9h.01M1195.4 265.0h.01M1195.5 235.1h.01M1195.5 232.2h.01M1195.6 255.1h.01M1195.6 256.0h.01M1195.6 220.3h.01M1195.7 253.1h.01M1195.7 262.2h.01M1195.8 265.8h.01M1195.8 251.4h.01M1195.8 253.7h.01M1195.9 256.5h.01M1195.9 235.5h.01M1195.9 264.9h.01M1196.0 254.3h.01M1196.0 241.1h.01M1196.1 276.2h.01M1196.1 248.3h.01M1196.1 237.8h.01M1196.2 282.8h.01M1196.2 279.8h.01M1196.3 279.6h.01M1196.3 291.4h.01M1196.3 260.0h.01M1196.4 292.6h.01M1196.4 260.5h.01M1196.4 247.8h.01M1196.5 290.9h.01M1196.5 273.4h.01M1196.6 296.1h.01M1196.6 259.3h.01M1196.6 280.8h.01M1196.7 274.8h.01M1196.7 270.8h.01M1196.8 264.6h.01M1196.8 277.4h.01M1196.8 272.9h.01M1196.9 281.1h.01M1196.9 272.4h.01M1197.0 290.6h.01M1197.0 274.1h.01M1197.0 302.0h.01M1197.1 282.6h.01M1197.1 250.0h.01M1197.1 275.7h.01M1197.2 294.5h.01M1197.2 274.1h.01M1197.3 291.4h.01M1197.3 301.1h.01M1197.3 289.0h.01M1197.4 269.2h.01M1197.4 274.5h.01M1197.5 281.5h.01M1197.5 293.2h.01M1197.5 295.7h.01M1197.6 262.9h.01M1197.6 278.4h.01M1197.6 295.1h.01M1197.7 311.3h.01M1197.7 301.6h.01M1197.8 249.4h.01M1197.8 299.3h.01M1197.8 285.0h.01M1197.9 281.5h.01M1197.9 286.8h.01M1198.0 288.8h.01M1198.0 304.1h.01M1198.0 300.0h.01M1198.1 263.1h.01M1198.1 296.7h.01M1198.2 275.3h.01M1198.2 310.1h.01M1198.2 291.1h.01M1198.3 284.2h.01M1198.3 274.0h.01M1198.3 303.6h.01M1198.4 280.6h.01M1198.4 283.8h.01M1198.5 299.3h.01M1198.5 283.2h.01M1198.5 302.1h.01M1198.6 301.0h.01M1198.6 290.8h.01M1198.7 327.6h.01M1198.7 292.6h.01M1198.7 305.0h.01M1198.8 311.5h.01M1198.8 297.8h.01M1198.8 282.0h.01M1198.9 298.1h.01M1198.9 275.8h.01M1199.0 308.8h.01M1199.0 311.1h.01M1199.0 272.8h.01M1199.1 288.6h.01M1199.1 281.5h.01M1199.2 305.7h.01M1199.2 283.9h.01M1199.2 291.5h.01M1199.3 286.6h.01M1199.3 295.2h.01M1199.4 279.6h.01M1199.4 304.8h.01M1199.4 309.3h.01M1199.5 316.4h.01M1199.5 281.2h.01M1199.5 307.0h.01M1199.6 311.3h.01M1199.6 310.2h.01M1199.7 303.8h.01M1199.7 315.1h.01M1199.7 302.2h.01M1199.8 306.9h.01M1199.8 306.1h.01M1199.9 311.8h.01M1199.9 298.7h.01M1199.9 305.6h.01M1200.0 298.1h.01M1200.0 296.5h.01M1200.0 295.6h.01M1200.1 329.6h.01M1200.1 307.7h.01M1200.2 311.4h.01M1200.2 290.6h.01M1200.2 322.3h.01M1200.3 311.0h.01M1200.3 305.6h.01M1200.4 306.3h.01M1200.4 288.8h.01M1200.4 308.2h.01M1200.5 289.6h.01M1200.5 322.3h.01M1200.6 327.1h.01M1200.6 286.8h.01M1200.6 297.5h.01M1200.7 297.0h.01M1200.7 302.1h.01M1200.7 297.4h.01M1200.8 320.3h.01M1200.8 291.6h.01M1200.9 311.6h.01M1200.9 291.6h.01M1200.9 303.7h.01M1201.0 331.4h.01M1201.0 322.4h.01M1201.1 290.4h.01M1201.1 307.5h.01M1201.1 311.1h.01M1201.2 302.8h.01M1201.2 311.9h.01M1201.2 313.6h.01M1201.3 305.2h.01M1201.3 304.8h.01M1201.4 286.8h.01M1201.4 306.5h.01M1201.4 282.3h.01M1201.5 283.5h.01M1201.5 284.9h.01M1201.6 293.8h.01M1201.6 306.3h.01M1201.6 306.4h.01M1201.7 310.3h.01M1201.7 318.3h.01M1201.8 309.6h.01M1201.8 317.4h.01M1201.8 287.3h.01M1201.9 302.2h.01M1201.9 315.3h.01M1201.9 335.0h.01M1202.0 310.5h.01M1202.0 315.4h.01M1202.1 324.5h.01M1202.1 325.3h.01M1202.1 340.2h.01M1202.2 303.1h.01M1202.2 311.6h.01M1202.3 276.8h.01M1202.3 311.5h.01M1202.3 313.2h.01M1202.4 292.3h.01M1202.4 309.8h.01M1202.4 309.5h.01M1202.5 316.8h.01M1202.5 320.1h.01M1202.6 292.4h.01M1202.6 299.2h.01M1202.6 289.9h.01M1202.7 317.3h.01M1202.7 312.5h.01M1202.8 324.6h.01M1202.8 300.4h.01M1202.8 331.7h.01M1202.9 306.0h.01M1202.9 299.2h.01M1203.0 295.2h.01M1203.0 326.3h.01M1203.0 299.7h.01M1203.1 323.7h.01M1203.1 324.4h.01M1203.1 332.0h.01M1203.2 299.5h.01M1203.2 293.1h.01M1203.3 322.8h.01M1203.3 325.2h.01M1203.3 319.8h.01M1203.4 282.5h.01M1203.4 302.4h.01M1203.5 322.9h.01M1203.5 339.5h.01M1203.5 324.9h.01M1203.6 300.6h.01M1203.6 291.8h.01M1203.6 320.0h.01M1203.7 325.7h.01M1203.7 323.5h.01M1203.8 341.7h.01M1203.8 305.1h.01M1203.8 331.5h.01M1203.9 303.4h.01M1203.9 339.9h.01M1204.0 334.3h.01M1204.0 314.0h.01M1204.0 327.9h.01M1204.1 307.8h.01M1204.1 318.1h.01M1204.1 333.8h.01M1204.2 310.3h.01M1204.2 307.6h.01M1204.3 343.9h.01M1204.3 295.0h.01M1204.3 312.5h.01M1204.4 309.2h.01M1204.4 343.7h.01M1204.5 328.9h.01M1204.5 324.2h.01M1204.5 305.6h.01M1204.6 339.0h.01M1204.6 331.6h.01M1204.7 346.7h.01M1204.7 323.5h.01M1204.7 315.9h.01M1204.8 342.6h.01M1204.8 328.4h.01M1204.8 314.2h.01M1204.9 300.2h.01M1204.9 312.4h.01M1205.0 325.2h.01M1205.0 336.8h.01M1205.0 333.8h.01M1205.1 330.3h.01M1205.1 319.9h.01M1205.2 322.6h.01M1205.2 300.3h.01M1205.2 318.4h.01M1205.3 336.3h.01M1205.3 302.3h.01M1205.3 310.2h.01M1205.4 321.4h.01M1205.4 332.3h.01M1205.5 347.4h.01M1205.5 336.5h.01M1205.5 311.4h.01M1205.6 333.8h.01M1205.6 340.7h.01M1205.7 321.1h.01M1205.7 320.6h.01M1205.7 316.0h.01M1205.8 315.5h.01M1205.8 305.8h.01M1205.9 335.2h.01M1205.9 311.7h.01M1205.9 337.4h.01M1206.0 315.6h.01M1206.0 322.5h.01M1206.0 321.8h.01M1206.1 312.5h.01M1206.1 325.4h.01M1206.2 310.8h.01M1206.2 314.1h.01M1206.2 323.8h.01M1206.3 333.1h.01M1206.3 335.6h.01M1206.4 332.8h.01M1206.4 328.7h.01M1206.4 326.5h.01M1206.5 287.6h.01M1206.5 318.2h.01M1206.5 316.6h.01M1206.6 337.9h.01M1206.6 336.1h.01M1206.7 331.1h.01M1206.7 324.6h.01M1206.7 340.7h.01M1206.8 306.4h.01M1206.8 334.8h.01M1206.9 313.6h.01M1206.9 358.0h.01M1206.9 327.9h.01M1207.0 324.4h.01M1207.0 325.6h.01M1207.1 320.4h.01M1207.1 324.7h.01M1207.1 326.4h.01M1207.2 353.1h.01M1207.2 338.0h.01M1207.2 359.2h.01M1207.3 320.8h.01M1207.3 325.1h.01M1207.4 331.8h.01M1207.4 340.0h.01M1207.4 337.0h.01M1207.5 305.7h.01M1207.5 307.3h.01M1207.6 330.6h.01M1207.6 313.3h.01M1207.6 350.6h.01M1207.7 355.2h.01M1207.7 336.6h.01M1207.7 341.8h.01M1207.8 337.8h.01M1207.8 328.3h.01M1207.9 291.7h.01M1207.9 339.5h.01M1207.9 330.4h.01M1208.0 327.6h.01M1208.0 331.7h.01M1208.1 319.4h.01M1208.1 308.6h.01M1208.1 347.7h.01M1208.2 329.7h.01M1208.2 335.3h.01M1208.3 355.0h.01M1208.4 362.3h.01M1208.5 363.4h.01M1209.2 306.1h.01M1209.3 305.8h.01M1209.5 311.6h.01M1210.1 317.1h.01M1210.5 313.5h.01M1210.5 312.1h.01M1210.5 315.6h.01M1210.6 313.6h.01M1210.9 365.8h.01M1210.9 310.5h.01M1211.0 311.1h.01M1212.7 366.6h.01M1213.0 324.1h.01M1213.5 370.7h.01M1213.7 324.2h.01M1214.2 326.1h.01M1215.0 372.7h.01M1215.3 378.8h.01M1215.5 376.8h.01M1215.7 386.2h.01M1215.8 380.1h.01M1215.9 376.5h.01M1216.0 326.2h.01M1216.5 334.4h.01M1216.7 380.5h.01M1216.9 384.5h.01M1218.8 326.0h.01M1218.9 341.7h.01M1219.7 384.9h.01M1220.2 397.3h.01M1220.4 390.6h.01M1220.8 390.6h.01M1221.3 388.0h.01M1221.4 393.0h.01M1221.7 412.3h.01M1222.1 346.2h.01M1222.3 393.7h.01M1222.6 394.0h.01M1222.8 349.3h.01M1223.1 406.6h.01M1223.5 397.5h.01M1223.5 342.8h.01M1224.2 416.6h.01M1224.6 399.0h.01M1225.0 356.2h.01M1225.3 354.0h.01M1225.4 405.2h.01M1225.6 357.2h.01M1225.7 355.2h.01M1225.8 404.2h.01M1225.9 409.4h.01M1226.2 357.1h.01M1226.2 401.9h.01M1227.4 404.7h.01M1227.6 405.5h.01M1227.6 362.3h.01M1227.7 355.1h.01M1228.4 364.8h.01M1228.7 365.0h.01M1230.0 369.1h.01M1231.3 366.1h.01M1231.5 414.9h.01M1231.8 415.6h.01M1232.3 414.8h.01M1233.1 372.3h.01M1233.3 377.2h.01M1233.3 415.6h.01M1233.6 419.3h.01M1234.3 378.5h.01M1234.8 418.7h.01M1234.8 419.5h.01M1235.0 379.7h.01M1235.3 422.8h.01M1236.0 378.4h.01M1236.4 432.1h.01M1236.8 423.1h.01M1237.2 423.4h.01M1237.6 379.7h.01M1237.7 384.1h.01M1237.7 429.3h.01M1238.2 386.0h.01M1239.5 430.7h.01M1239.8 390.6h.01M1240.7 390.6h.01M1241.0 431.5h.01M1241.1 440.4h.01M1241.3 432.5h.01M1241.4 392.3h.01M1242.2 433.7h.01M1242.4 438.1h.01M1242.6 395.2h.01M1243.0 391.5h.01M1243.5 449.6h.01M1243.9 446.0h.01M1244.1 436.1h.01M1244.4 440.8h.01M1244.6 399.9h.01M1245.0 388.2h.01M1245.3 396.2h.01M1245.9 450.8h.01M1246.1 442.1h.01M1246.6 440.5h.01M1246.8 452.0h.01M1247.0 444.7h.01M1248.8 444.9h.01M1249.0 457.5h.01M1249.1 453.4h.01M1250.0 453.7h.01M1250.5 406.6h.01M1250.7 447.7h.01M1250.8 450.9h.01M1251.3 395.1h.01M1251.5 411.4h.01M1251.6 451.9h.01M1251.8 454.7h.01M1252.0 451.9h.01M1252.1 408.5h.01M1252.3 407.4h.01M1252.3 459.7h.01M1252.4 408.4h.01M1252.5 412.1h.01M1252.5 407.0h.01M1252.9 411.1h.01M1253.0 455.8h.01M1253.1 412.9h.01M1253.4 398.9h.01M1253.5 412.3h.01M1254.1 405.6h.01M1254.8 465.7h.01M1255.0 462.6h.01M1255.3 456.6h.01M1256.0 409.8h.01M1256.0 418.8h.01M1256.2 468.5h.01M1256.2 457.9h.01M1256.8 414.2h.01M1257.4 421.1h.01M1257.5 461.0h.01M1258.1 471.1h.01M1258.1 417.4h.01M1258.3 460.9h.01M1260.6 467.6h.01M1260.7 465.4h.01M1261.1 464.1h.01M1261.2 427.0h.01M1261.7 425.4h.01M1262.0 412.9h.01M1263.3 428.6h.01M1263.5 473.5h.01M1263.6 470.1h.01M1264.6 476.6h.01M1264.7 426.0h.01M1264.9 430.0h.01M1265.4 480.7h.01M1266.0 419.1h.01M1266.4 474.4h.01M1266.7 429.5h.01M1266.8 476.6h.01M1267.0 431.1h.01M1267.2 435.2h.01M1267.3 436.0h.01M1267.5 472.3h.01M1268.0 431.5h.01M1268.1 436.2h.01M1268.9 433.4h.01M1268.9 478.9h.01M1269.0 429.5h.01M1269.1 475.4h.01M1269.3 437.9h.01M1270.5 439.8h.01M1270.8 431.9h.01M1270.9 438.7h.01M1271.1 482.0h.01M1271.7 481.9h.01M1272.3 440.9h.01M1272.4 439.1h.01M1272.6 484.2h.01M1272.9 441.5h.01M1274.1 442.4h.01M1274.4 439.7h.01M1274.4 480.3h.01M1274.9 439.6h.01M1275.0 482.2h.01M1275.3 481.4h.01M1275.3 445.9h.01M1275.5 489.5h.01M1275.9 483.7h.01M1275.9 441.7h.01M1276.0 444.9h.01M1276.4 442.8h.01M1277.1 486.0h.01M1277.2 446.6h.01M1277.4 483.9h.01M1277.9 439.2h.01M1278.5 444.3h.01M1278.5 486.8h.01M1279.0 449.3h.01M1279.4 447.7h.01M1279.8 486.0h.01M1279.9 491.0h.01M1280.4 448.9h.01M1280.5 489.7h.01M1280.7 490.6h.01M1281.0 449.1h.01M1281.0 489.9h.01M1281.2 451.5h.01M1281.4 490.2h.01M1281.4 488.1h.01M1282.0 497.1h.01M1282.5 489.8h.01M1282.6 451.9h.01M1282.9 453.1h.01M1283.0 452.0h.01M1283.1 453.7h.01M1283.6 451.1h.01M1283.6 453.1h.01M1284.6 456.0h.01M1284.7 450.8h.01M1285.0 452.5h.01M1285.5 456.3h.01M1285.7 507.0h.01M1285.9 494.6h.01M1286.2 451.9h.01M1286.3 500.3h.01M1286.5 494.6h.01M1288.2 458.9h.01M1288.4 445.9h.01M1288.6 496.8h.01M1288.8 458.6h.01M1288.9 453.2h.01M1289.5 460.5h.01M1289.7 460.2h.01M1289.8 457.7h.01M1289.8 497.3h.01M1290.4 496.3h.01M1290.9 500.2h.01M1291.2 503.1h.01M1291.2 498.2h.01M1291.7 499.4h.01M1291.7 499.3h.01M1291.8 463.1h.01M1292.0 499.5h.01M1292.0 500.5h.01M1292.1 457.8h.01M1292.6 463.5h.01M1292.7 510.5h.01M1292.9 463.4h.01M1293.1 503.7h.01M1293.6 506.5h.01M1293.7 501.9h.01M1293.8 508.1h.01M1294.0 460.0h.01M1294.1 514.0h.01M1294.4 500.5h.01M1295.3 465.6h.01M1296.6 464.1h.01M1296.7 466.2h.01M1296.8 465.0h.01M1297.1 466.3h.01M1297.7 502.8h.01M1298.6 467.8h.01M1298.6 506.1h.01M1300.7 509.7h.01M1300.8 462.6h.01M1301.0 513.9h.01M1301.1 521.0h.01M1301.4 462.1h.01M1301.7 472.1h.01M1302.1 469.8h.01M1302.1 470.8h.01M1302.5 508.0h.01M1302.6 507.3h.01M1302.8 467.7h.01M1303.1 469.2h.01M1303.6 511.6h.01M1303.7 470.5h.01M1304.5 473.3h.01M1304.8 513.8h.01M1305.9 510.4h.01M1305.9 472.5h.01M1306.0 511.9h.01M1306.1 518.4h.01M1306.2 475.5h.01M1306.4 509.8h.01M1307.1 474.6h.01M1307.8 475.0h.01M1308.3 511.8h.01M1308.5 511.4h.01M1309.3 511.4h.01M1309.7 514.1h.01M1309.8 520.6h.01M1310.2 475.7h.01M1311.0 513.1h.01M1311.1 474.0h.01M1311.4 473.3h.01M1311.9 474.1h.01M1312.7 479.8h.01M1312.7 479.4h.01M1312.8 522.6h.01M1313.2 472.6h.01M1313.8 514.3h.01M1313.9 480.1h.01M1314.0 515.1h.01M1314.5 475.5h.01M1314.7 474.9h.01M1314.8 528.1h.01M1314.9 515.5h.01M1315.3 515.3h.01M1315.6 478.8h.01M1315.9 519.4h.01M1316.5 523.6h.01M1316.8 480.0h.01M1316.9 516.2h.01M1317.1 518.1h.01M1317.7 519.0h.01M1317.9 483.4h.01M1318.0 476.3h.01M1318.0 521.9h.01M1318.2 523.4h.01M1318.6 480.3h.01M1318.9 521.6h.01M1319.0 482.9h.01M1319.1 523.0h.01M1319.2 480.1h.01M1319.2 524.9h.01M1319.9 518.2h.01M1320.1 519.4h.01M1320.3 518.5h.01M1320.4 482.2h.01M1320.9 525.1h.01M1320.9 529.4h.01M1321.6 528.1h.01M1321.6 527.2h.01M1322.0 528.3h.01M1322.3 486.0h.01M1322.8 528.2h.01M1323.2 482.4h.01M1323.6 487.1h.01M1324.2 486.6h.01M1324.3 487.4h.01M1324.5 486.8h.01M1324.8 483.2h.01M1324.9 526.3h.01M1325.0 484.6h.01M1325.2 524.8h.01M1325.4 527.7h.01M1325.9 528.8h.01M1325.9 523.1h.01M1325.9 483.0h.01M1326.1 472.1h.01M1326.6 522.1h.01M1326.9 486.4h.01M1327.2 487.1h.01M1327.4 487.3h.01M1327.6 527.6h.01M1327.7 483.2h.01M1328.0 524.5h.01M1328.3 489.2h.01M1328.7 526.4h.01M1329.6 490.1h.01M1329.6 473.2h.01M1329.9 526.6h.01M1329.9 527.4h.01M1330.5 488.5h.01M1330.6 490.3h.01M1331.0 487.8h.01M1331.6 490.6h.01M1331.9 489.6h.01M1332.1 526.6h.01M1332.2 485.7h.01M1332.6 524.7h.01M1332.9 480.6h.01M1333.5 489.9h.01M1333.8 483.4h.01M1333.9 481.6h.01M1334.3 530.6h.01M1334.7 528.4h.01M1335.0 492.2h.01M1335.0 490.6h.01M1335.2 488.8h.01M1335.5 534.9h.01M1335.7 478.7h.01M1336.1 493.1h.01M1337.2 527.5h.01M1337.7 534.6h.01M1339.0 541.4h.01M1339.4 488.9h.01M1339.8 494.8h.01M1340.1 536.5h.01M1340.7 484.6h.01M1341.0 495.3h.01M1341.3 496.1h.01M1342.6 489.9h.01M1342.8 531.2h.01M1342.9 529.5h.01M1343.3 495.7h.01M1343.7 536.7h.01M1344.2 534.6h.01M1344.3 530.3h.01M1344.4 488.6h.01M1344.6 491.5h.01M1344.8 531.1h.01M1345.8 495.5h.01M1346.4 498.1h.01M1346.4 492.6h.01M1346.5 494.9h.01M1346.5 494.8h.01M1346.8 532.5h.01M1346.8 497.5h.01M1346.9 544.4h.01M1347.2 534.1h.01M1347.4 498.2h.01M1347.4 544.7h.01M1348.2 495.4h.01M1348.8 498.5h.01M1349.2 498.1h.01M1349.3 534.2h.01M1350.6 534.1h.01M1350.8 498.0h.01M1351.1 491.9h.01M1351.4 495.6h.01M1351.4 534.3h.01M1352.1 494.7h.01M1352.1 500.1h.01M1352.4 500.6h.01M1352.5 497.9h.01M1353.0 493.5h.01M1353.0 501.0h.01M1353.5 500.8h.01M1353.6 538.1h.01M1354.0 535.3h.01M1354.5 499.9h.01M1354.7 499.0h.01M1355.0 534.7h.01M1355.4 498.3h.01M1355.8 537.5h.01M1355.9 495.3h.01M1357.5 535.5h.01M1357.6 502.6h.01M1357.7 538.8h.01M1357.9 497.2h.01M1359.7 537.2h.01M1359.8 498.4h.01M1361.1 500.4h.01M1361.4 541.2h.01M1362.6 537.1h.01M1363.4 537.0h.01M1363.7 500.1h.01M1363.8 497.2h.01M1363.9 502.8h.01M1364.1 503.7h.01M1365.2 499.0h.01M1365.2 504.7h.01M1365.5 504.2h.01M1365.9 540.1h.01M1366.3 502.8h.01M1366.4 504.9h.01M1366.7 502.3h.01M1367.3 501.5h.01M1367.6 539.8h.01M1368.1 506.4h.01M1368.4 544.9h.01M1368.6 506.7h.01M1369.0 542.1h.01M1369.2 490.8h.01M1369.2 539.6h.01M1369.6 544.1h.01M1369.7 539.7h.01M1370.4 540.1h.01M1370.5 547.9h.01M1371.3 503.3h.01M1371.3 544.8h.01M1371.5 501.5h.01M1371.6 542.4h.01M1372.3 549.8h.01M1372.5 547.1h.01M1373.2 507.5h.01M1373.6 547.3h.01M1373.7 547.6h.01M1373.9 508.0h.01M1374.5 541.2h.01M1374.6 501.4h.01M1374.7 504.5h.01M1374.9 541.7h.01M1375.1 544.1h.01M1375.2 542.4h.01M1376.5 542.4h.01M1376.7 507.6h.01M1376.8 542.2h.01M1377.4 504.6h.01M1377.7 542.4h.01M1378.2 548.1h.01M1378.5 507.2h.01M1379.1 509.7h.01M1379.3 509.0h.01M1379.5 544.5h.01M1380.1 505.4h.01M1380.4 552.3h.01M1381.1 542.6h.01M1381.5 510.6h.01M1382.4 507.8h.01M1382.9 543.2h.01M1383.5 510.3h.01M1383.5 542.9h.01M1384.8 507.0h.01M1385.1 503.9h.01M1385.3 546.7h.01M1385.4 508.9h.01M1386.2 509.3h.01M1386.5 509.4h.01M1387.0 553.1h.01M1387.7 548.1h.01M1387.9 506.8h.01M1388.0 550.8h.01M1388.2 544.6h.01M1388.6 506.2h.01M1388.8 546.2h.01M1389.0 511.3h.01M1389.1 504.9h.01M1389.8 512.5h.01M1390.1 549.3h.01M1390.3 496.5h.01M1390.4 509.4h.01M1391.1 547.8h.01M1391.7 545.7h.01M1392.1 545.2h.01M1392.4 545.5h.01M1392.7 546.0h.01M1393.2 513.8h.01M1393.6 513.2h.01M1393.6 546.3h.01M1394.0 546.4h.01M1394.1 512.2h.01M1394.6 513.5h.01M1394.7 512.1h.01M1395.0 507.3h.01M1395.3 546.8h.01M1395.5 509.3h.01M1396.2 513.3h.01M1396.3 550.3h.01M1396.8 551.5h.01M1396.9 550.3h.01M1397.0 503.2h.01M1397.8 512.8h.01M1398.2 547.6h.01M1398.2 550.2h.01M1398.7 514.4h.01M1399.2 556.7h.01M1399.4 506.6h.01M1399.7 552.0h.01M1400.4 513.3h.01M1400.7 512.8h.01M1400.9 547.5h.01M1401.5 511.4h.01M1401.6 548.2h.01M1401.8 515.1h.01M1402.1 548.5h.01M1402.2 551.1h.01M1402.5 549.2h.01M1402.7 548.0h.01M1403.1 511.6h.01M1403.6 513.3h.01M1404.2 548.7h.01M1404.5 507.5h.01M1404.7 549.8h.01M1404.9 548.7h.01M1405.0 556.9h.01M1405.1 511.3h.01M1405.9 516.7h.01M1406.1 510.5h.01M1406.5 514.0h.01M1407.7 516.9h.01M1408.1 514.6h.01M1408.2 510.1h.01M1408.5 561.1h.01M1408.6 558.2h.01M1408.6 507.3h.01M1408.6 557.1h.01M1409.0 553.4h.01M1409.0 514.1h.01M1409.2 514.9h.01M1409.8 515.7h.01M1409.9 550.2h.01M1410.0 511.3h.01M1410.1 560.9h.01M1410.4 551.2h.01M1410.5 515.0h.01M1411.1 515.7h.01M1411.5 557.1h.01M1412.3 554.8h.01M1412.9 553.8h.01M1413.5 550.1h.01M1414.5 517.2h.01M1414.6 515.9h.01M1415.1 562.1h.01M1415.1 515.2h.01M1415.6 512.5h.01M1415.8 509.8h.01M1416.1 550.7h.01M1416.7 552.2h.01M1416.8 559.9h.01M1416.9 556.9h.01M1417.7 554.5h.01M1417.7 517.1h.01M1418.6 519.3h.01M1418.7 551.9h.01M1418.9 556.5h.01M1419.3 517.9h.01M1420.0 516.8h.01M1420.4 517.9h.01M1420.9 516.9h.01M1421.0 551.5h.01M1421.2 517.0h.01M1421.3 552.4h.01M1421.3 552.5h.01M1421.4 520.0h.01M1421.9 554.6h.01M1423.1 560.4h.01M1423.3 510.7h.01M1423.5 519.0h.01M1423.8 499.9h.01M1424.7 560.3h.01M1425.0 553.7h.01M1425.4 558.7h.01M1425.6 512.3h.01M1425.9 514.9h.01M1426.3 519.5h.01M1427.0 519.5h.01M1427.1 554.0h.01M1427.3 514.6h.01M1427.6 517.8h.01M1428.1 519.5h.01M1428.2 516.2h.01M1428.4 520.7h.01M1428.5 562.4h.01M1428.8 553.9h.01M1430.1 553.9h.01M1430.1 556.6h.01M1430.2 517.9h.01M1430.9 517.7h.01M1431.6 553.0h.01M1431.7 517.6h.01M1431.8 555.0h.01M1431.9 562.9h.01M1432.9 555.6h.01M1433.1 518.5h.01M1433.7 557.6h.01M1433.8 558.3h.01M1435.0 520.5h.01M1436.1 520.5h.01M1436.2 560.2h.01M1437.1 512.4h.01M1437.2 521.5h.01M1437.3 557.9h.01M1437.8 520.6h.01M1438.1 507.1h.01M1438.3 522.3h.01M1438.4 521.1h.01M1438.7 557.1h.01M1439.5 519.1h.01M1439.8 563.1h.01M1440.0 516.3h.01M1440.0 520.8h.01M1440.7 520.2h.01M1441.2 520.9h.01M1441.3 561.8h.01M1441.4 554.7h.01M1441.7 521.7h.01M1441.9 517.8h.01M1442.2 562.7h.01M1442.6 517.8h.01M1443.2 515.4h.01M1445.2 558.7h.01M1445.6 515.4h.01M1445.6 522.9h.01M1445.7 556.1h.01M1445.8 521.2h.01M1445.8 520.1h.01M1446.3 557.3h.01M1446.5 521.4h.01M1446.7 557.4h.01M1446.9 523.1h.01M1447.7 518.8h.01M1449.4 518.7h.01M1449.4 516.6h.01M1449.6 556.8h.01M1450.1 522.9h.01M1450.4 562.5h.01M1450.8 561.1h.01M1451.6 521.7h.01M1451.9 515.4h.01M1452.3 524.7h.01M1453.2 557.5h.01M1453.5 557.1h.01M1453.8 524.3h.01M1453.9 524.0h.01M1454.0 563.5h.01M1454.0 556.6h.01M1454.0 522.7h.01M1454.1 516.9h.01M1454.6 565.9h.01M1454.8 522.7h.01M1456.6 518.3h.01M1456.9 524.7h.01M1457.1 559.7h.01M1457.4 561.5h.01M1457.5 570.6h.01M1457.9 522.3h.01M1458.5 522.9h.01M1458.5 524.0h.01M1458.6 559.8h.01M1458.7 518.6h.01M1459.2 516.7h.01M1460.2 558.6h.01M1460.4 561.5h.01M1460.4 524.0h.01M1460.5 517.1h.01M1460.8 514.4h.01M1461.8 525.2h.01M1461.8 523.8h.01M1461.9 561.8h.01M1462.6 559.2h.01M1462.8 518.4h.01M1462.9 520.3h.01M1463.5 522.8h.01M1464.0 561.2h.01M1464.8 525.9h.01M1465.0 558.7h.01M1465.0 559.6h.01M1465.5 524.8h.01M1466.1 523.6h.01M1466.2 561.9h.01M1466.8 526.1h.01M1467.2 522.6h.01M1468.3 525.6h.01M1468.6 523.6h.01M1468.9 558.8h.01M1469.3 562.5h.01M1469.3 560.3h.01M1469.5 559.2h.01M1469.9 559.2h.01M1470.1 520.7h.01M1470.1 518.1h.01M1470.5 558.9h.01M1470.6 558.8h.01M1471.0 559.7h.01M1471.5 564.5h.01M1471.5 564.9h.01M1472.4 566.0h.01M1473.1 558.9h.01M1473.7 520.1h.01M1474.6 565.1h.01M1475.1 526.2h.01M1475.3 525.9h.01M1475.5 569.5h.01M1475.7 519.4h.01M1475.9 526.6h.01M1475.9 559.3h.01M1476.6 559.7h.01M1477.0 558.9h.01M1477.0 516.2h.01M1477.1 527.1h.01M1477.2 559.0h.01M1477.5 521.4h.01M1478.1 526.0h.01M1478.2 523.9h.01M1478.3 525.5h.01M1478.5 523.2h.01M1478.5 560.3h.01M1478.9 522.8h.01M1479.1 517.1h.01M1479.9 564.9h.01M1480.1 525.8h.01M1480.2 523.0h.01M1480.9 561.2h.01M1481.1 563.2h.01M1481.4 558.8h.01M1481.4 515.6h.01M1481.6 562.0h.01M1481.7 526.8h.01M1482.5 519.2h.01M1482.7 561.5h.01M1482.8 561.4h.01M1482.9 563.1h.01M1483.1 523.7h.01M1483.1 567.9h.01M1483.3 560.3h.01M1483.7 562.6h.01M1483.8 562.0h.01M1484.1 521.3h.01M1484.1 559.3h.01M1484.3 520.7h.01M1485.0 559.9h.01M1485.9 560.1h.01M1485.9 526.8h.01M1486.2 561.7h.01M1486.6 517.6h.01M1487.2 561.0h.01M1487.4 578.3h.01M1487.6 528.2h.01M1487.7 511.8h.01M1488.1 559.3h.01M1488.1 527.8h.01M1488.3 561.3h.01M1488.3 522.9h.01M1489.3 559.7h.01M1489.6 528.3h.01M1490.1 528.4h.01M1490.2 559.9h.01M1490.3 559.7h.01M1490.6 570.3h.01M1490.7 562.6h.01M1490.7 563.0h.01M1491.2 564.3h.01M1491.3 569.7h.01M1491.7 562.2h.01M1491.9 560.1h.01M1492.0 517.0h.01M1492.3 563.8h.01M1493.1 560.3h.01M1493.3 564.4h.01M1493.4 518.7h.01M1493.6 527.0h.01M1493.8 560.6h.01M1494.7 524.0h.01M1495.5 566.9h.01M1496.3 529.0h.01M1496.6 567.5h.01M1496.8 526.8h.01M1497.0 561.8h.01M1497.1 560.2h.01M1497.7 561.4h.01M1497.7 567.9h.01M1498.0 561.5h.01M1498.1 561.7h.01M1498.3 526.9h.01M1498.6 560.4h.01M1498.6 560.0h.01M1499.6 522.0h.01M1499.9 565.4h.01M1500.4 560.4h.01M1500.5 523.7h.01M1500.7 521.8h.01M1500.8 567.6h.01M1501.1 526.7h.01M1501.1 569.8h.01M1501.2 566.4h.01M1501.8 572.2h.01M1501.9 528.6h.01M1502.4 561.5h.01M1502.5 528.2h.01M1502.6 528.2h.01M1502.8 523.4h.01M1502.9 567.8h.01M1503.0 525.5h.01M1503.2 525.9h.01M1503.8 522.8h.01M1504.2 515.9h.01M1504.3 563.7h.01M1504.4 567.8h.01M1504.5 565.3h.01M1506.0 529.1h.01M1506.4 525.1h.01M1506.4 573.2h.01M1507.6 563.3h.01M1508.1 568.7h.01M1508.4 525.3h.01M1509.4 529.2h.01M1509.7 520.6h.01M1509.7 568.3h.01M1509.8 528.0h.01M1510.4 564.5h.01M1510.9 525.8h.01M1512.4 564.8h.01M1512.6 565.0h.01M1512.7 562.0h.01M1513.0 529.9h.01M1513.1 566.1h.01M1513.5 529.4h.01M1513.5 564.7h.01M1513.8 526.9h.01M1514.8 564.4h.01M1515.3 562.0h.01M1516.8 518.4h.01M1517.0 563.6h.01M1517.0 529.5h.01M1517.2 526.1h.01M1517.4 562.6h.01M1518.6 528.3h.01M1518.8 529.8h.01M1518.8 561.5h.01M1519.4 561.9h.01M1520.0 529.8h.01M1520.3 565.4h.01M1521.3 529.4h.01M1521.8 527.4h.01M1521.9 566.3h.01M1522.4 528.0h.01M1522.5 530.3h.01M1522.7 566.4h.01M1523.0 518.0h.01M1523.4 565.8h.01M1523.7 564.4h.01M1524.1 561.9h.01M1524.4 529.3h.01M1524.8 527.0h.01M1524.8 571.1h.01M1525.2 575.1h.01M1525.4 519.6h.01M1526.0 527.7h.01M1526.5 561.5h.01M1527.3 525.2h.01M1527.4 566.2h.01M1527.7 530.3h.01M1528.2 524.3h.01M1528.5 565.5h.01M1529.0 530.1h.01M1529.8 561.7h.01M1529.9 524.4h.01M1530.0 563.5h.01M1530.4 562.3h.01M1531.3 567.4h.01M1532.5 565.8h.01M1532.5 569.3h.01M1532.9 528.5h.01M1533.0 562.7h.01M1533.1 522.3h.01M1533.3 563.7h.01M1533.8 525.3h.01M1534.3 529.0h.01M1534.8 566.9h.01M1534.9 561.6h.01M1534.9 567.3h.01M1535.0 526.8h.01M1535.2 567.6h.01M1535.5 526.8h.01M1535.6 525.7h.01M1535.9 522.3h.01M1536.0 523.9h.01M1536.6 526.9h.01M1537.0 528.2h.01M1537.1 528.8h.01M1537.1 522.8h.01M1537.9 565.0h.01M1538.8 563.3h.01M1539.5 561.9h.01M1540.0 524.0h.01M1540.2 572.0h.01M1540.6 526.2h.01M1541.3 568.0h.01M1541.6 574.8h.01M1541.7 566.9h.01M1541.8 528.9h.01M1542.7 568.4h.01M1543.6 524.9h.01M1544.3 528.9h.01M1544.4 565.8h.01M1544.6 525.7h.01M1544.7 568.9h.01M1544.9 522.0h.01M1545.0 525.4h.01M1545.5 530.0h.01M1545.6 528.6h.01M1545.7 562.6h.01M1546.6 530.7h.01M1546.9 563.2h.01M1547.2 570.1h.01M1547.2 524.2h.01M1547.3 562.6h.01M1547.9 530.6h.01M1548.0 567.6h.01M1548.0 565.4h.01M1548.3 563.6h.01M1548.7 530.5h.01M1549.1 562.9h.01M1549.3 568.4h.01M1550.3 574.2h.01M1551.3 525.5h.01M1552.1 570.8h.01M1552.5 565.4h.01M1552.8 525.6h.01M1553.3 571.4h.01M1553.9 563.2h.01M1554.0 525.3h.01M1554.4 530.6h.01M1554.5 570.0h.01M1554.6 529.2h.01M1554.6 529.5h.01M1556.3 525.0h.01M1556.6 565.2h.01M1557.5 525.1h.01M1557.6 523.0h.01M1557.8 562.9h.01M1558.1 530.9h.01M1558.5 564.9h.01M1558.7 564.0h.01M1559.3 530.4h.01M1559.4 531.5h.01M1559.5 530.1h.01M1560.0 570.3h.01M1560.2 574.7h.01M1560.5 577.6h.01M1560.7 528.4h.01M1560.9 520.4h.01M1561.5 564.2h.01M1562.1 571.0h.01M1562.2 575.1h.01M1562.5 529.3h.01M1563.0 565.5h.01M1563.6 562.6h.01M1563.7 531.5h.01M1564.4 565.0h.01M1564.7 563.8h.01M1565.4 563.1h.01M1565.7 565.3h.01M1565.8 564.3h.01M1566.5 518.5h.01M1567.1 564.6h.01M1567.2 569.7h.01M1567.4 528.4h.01M1567.4 565.2h.01M1567.7 564.6h.01M1567.9 524.0h.01M1568.1 528.6h.01M1569.5 519.0h.01M1569.5 530.1h.01M1569.8 566.4h.01M1570.1 530.5h.01M1570.3 526.8h.01M1570.5 523.9h.01M1570.7 528.5h.01M1571.2 568.1h.01M1571.5 527.4h.01M1571.6 531.7h.01M1571.8 565.0h.01M1571.9 531.1h.01M1572.3 530.0h.01M1572.8 564.6h.01M1573.8 565.3h.01M1573.9 528.3h.01M1574.8 564.3h.01M1575.9 524.6h.01M1576.0 571.8h.01M1576.7 565.5h.01M1576.9 529.7h.01M1577.2 565.6h.01M1578.7 566.7h.01M1578.7 528.3h.01M1579.4 526.8h.01M1579.8 528.2h.01M1579.9 564.8h.01M1580.5 568.1h.01M1580.6 566.5h.01M1580.8 563.8h.01M1581.2 567.5h.01M1581.3 531.1h.01M1582.7 568.9h.01M1584.0 563.2h.01M1584.5 528.9h.01M1584.5 565.8h.01M1584.7 527.4h.01M1584.9 569.0h.01M1585.0 564.1h.01M1585.3 529.3h.01M1585.3 563.6h.01M1585.4 521.9h.01M1585.6 515.9h.01M1585.7 565.3h.01M1585.8 566.8h.01M1585.9 569.8h.01M1586.2 564.3h.01M1586.4 564.9h.01M1586.5 526.5h.01M1586.6 566.6h.01M1586.7 565.3h.01M1586.9 530.0h.01M1587.7 564.3h.01M1588.0 568.5h.01M1588.4 527.2h.01M1588.7 567.3h.01M1588.8 530.9h.01M1589.8 526.9h.01M1589.8 531.3h.01M1590.2 528.4h.01M1590.2 565.3h.01M1590.5 570.2h.01M1590.5 525.4h.01M1591.0 575.5h.01M1591.2 523.7h.01M1591.9 525.2h.01M1592.1 571.0h.01M1592.2 531.9h.01M1592.4 563.1h.01M1592.6 576.8h.01M1592.8 567.4h.01M1593.0 565.6h.01M1593.1 528.2h.01M1593.2 563.3h.01M1593.9 564.5h.01M1594.1 513.8h.01M1594.4 566.2h.01M1595.7 530.1h.01M1596.0 564.2h.01M1596.8 525.4h.01M1596.9 570.1h.01M1597.7 566.3h.01M1597.7 531.5h.01M1598.1 531.7h.01M1598.2 531.6h.01M1599.1 522.5h.01M1599.4 531.1h.01M1599.8 530.4h.01M1600.1 565.8h.01M1600.3 568.4h.01M1601.8 565.0h.01M1601.8 524.6h.01M1602.3 563.6h.01M1602.5 530.9h.01M1602.8 564.6h.01M1602.9 567.1h.01M1603.5 520.0h.01M1603.9 564.4h.01M1604.2 531.7h.01M1604.3 572.3h.01M1604.3 530.3h.01M1605.3 528.0h.01M1605.7 531.9h.01M1605.8 532.0h.01M1606.3 568.0h.01M1607.2 564.5h.01M1608.0 531.7h.01M1608.5 568.2h.01M1608.7 563.6h.01M1610.1 578.4h.01M1610.4 513.7h.01M1610.7 532.2h.01M1610.8 527.7h.01M1610.9 531.6h.01M1611.0 574.2h.01M1611.2 527.8h.01M1611.3 528.0h.01M1611.5 569.6h.01M1611.8 531.3h.01M1612.4 524.1h.01M1612.6 531.1h.01M1613.3 523.4h.01M1613.6 569.6h.01M1613.6 530.0h.01M1613.9 563.4h.01M1614.0 563.7h.01M1614.4 530.0h.01M1614.8 530.4h.01M1614.8 571.0h.01M1614.9 566.8h.01M1615.1 563.4h.01M1615.5 563.9h.01M1615.6 570.1h.01M1616.0 564.7h.01M1616.1 529.3h.01M1616.4 524.9h.01M1616.5 567.8h.01M1616.7 574.4h.01M1616.9 523.1h.01M1618.0 529.5h.01M1618.3 569.9h.01M1618.4 567.0h.01M1619.1 565.8h.01M1619.2 517.5h.01M1619.3 563.7h.01M1619.4 514.7h.01M1619.5 528.4h.01M1619.6 574.9h.01M1620.1 564.2h.01M1620.4 532.1h.01M1620.9 531.8h.01M1622.4 531.0h.01M1622.4 518.3h.01M1622.7 524.2h.01M1622.9 568.1h.01M1623.1 565.2h.01M1623.3 529.1h.01M1624.4 567.2h.01M1624.5 564.2h.01M1624.6 529.5h.01M1624.9 564.1h.01M1625.7 530.5h.01M1626.1 523.2h.01M1626.5 570.5h.01M1626.8 568.8h.01M1627.3 520.5h.01M1627.5 566.9h.01M1627.5 578.2h.01M1628.2 519.9h.01M1628.5 569.3h.01M1628.9 564.4h.01M1629.5 569.3h.01M1629.6 563.5h.01M1629.9 529.0h.01M1630.9 570.1h.01M1631.0 566.8h.01M1631.1 566.3h.01M1631.2 564.8h.01M1631.8 563.7h.01M1632.1 563.3h.01M1632.6 575.6h.01M1633.1 579.8h.01M1633.5 564.9h.01M1633.7 564.0h.01M1633.8 565.7h.01M1634.5 530.2h.01M1635.1 566.6h.01M1635.2 531.4h.01M1635.4 563.5h.01M1635.7 528.5h.01M1635.9 531.1h.01M1636.0 564.3h.01M1636.1 565.9h.01M1636.3 574.1h.01M1636.7 568.5h.01M1637.3 530.8h.01M1637.4 532.3h.01M1637.5 529.3h.01M1638.3 563.7h.01M1638.9 563.3h.01M1638.9 532.0h.01M1639.1 528.9h.01M1639.3 531.7h.01M1639.3 527.8h.01M1639.8 529.7h.01M1640.1 528.0h.01M1641.5 532.5h.01M1642.1 570.4h.01M1643.1 567.7h.01M1643.9 530.9h.01M1644.9 531.5h.01M1645.3 530.8h.01M1646.3 527.2h.01M1646.4 532.3h.01M1646.4 532.1h.01M1647.6 570.9h.01M1648.0 529.3h.01M1648.1 523.3h.01M1649.1 568.3h.01M1649.4 566.2h.01M1649.5 531.2h.01M1649.7 532.0h.01M1649.8 530.3h.01M1649.9 564.4h.01M1650.5 529.0h.01M1650.8 523.9h.01M1651.2 568.5h.01M1651.9 565.7h.01M1652.2 563.7h.01M1652.3 528.9h.01M1652.8 525.4h.01M1653.0 531.8h.01M1653.2 530.1h.01M1653.9 530.5h.01M1654.2 530.5h.01M1654.5 530.3h.01M1654.8 528.2h.01M1654.9 563.9h.01M1655.0 574.7h.01M1655.2 531.1h.01M1655.8 530.0h.01M1655.9 529.9h.01M1656.5 524.6h.01M1656.6 568.4h.01M1656.8 521.1h.01M1657.3 528.5h.01M1657.7 524.7h.01M1658.1 525.4h.01M1658.2 565.3h.01M1658.6 573.0h.01M1658.7 573.4h.01M1659.3 568.0h.01M1659.5 531.2h.01M1659.6 565.0h.01M1660.0 532.7h.01M1661.3 532.3h.01M1661.9 565.0h.01M1661.9 576.5h.01M1662.0 528.7h.01M1663.7 532.3h.01M1663.8 565.3h.01M1663.9 528.2h.01M1664.0 526.4h.01M1664.3 571.4h.01M1664.5 527.0h.01M1665.7 565.9h.01M1666.2 565.6h.01M1666.3 565.9h.01M1666.4 532.7h.01M1666.6 566.7h.01M1667.1 530.6h.01M1667.2 566.1h.01M1667.6 568.4h.01M1667.8 530.0h.01M1668.1 529.2h.01M1668.4 564.0h.01M1668.6 567.4h.01M1668.6 567.7h.01M1668.8 563.6h.01M1669.8 531.0h.01M1669.9 563.9h.01M1671.0 573.8h.01M1671.4 529.0h.01M1671.4 566.1h.01M1672.0 532.7h.01M1672.2 532.5h.01M1672.8 565.6h.01M1673.2 572.8h.01M1674.7 566.9h.01M1675.1 528.8h.01M1675.9 530.8h.01M1676.0 525.3h.01M1676.8 566.8h.01M1677.0 527.1h.01M1677.2 529.3h.01M1677.4 569.0h.01M1677.7 567.9h.01M1677.9 531.9h.01M1679.6 572.5h.01M1679.9 565.0h.01M1680.0 567.2h.01M1680.3 532.3h.01M1680.3 571.6h.01M1680.9 528.8h.01M1680.9 564.7h.01M1147.4 547.5h.01M1151.8 550.1h.01M1159.6 551.0h.01M1181.8 547.9h.01M1189.3 551.0h.01M1267.9 411.9h.01M1336.5 473.0h.01M1194.8 80.6h.01M1192.4 134.1h.01" fill="none" stroke="#000" stroke-width="7" stroke-linecap="round"/>
</g>
<polyline points="1197.1,126.4 1197.4,143.3 1197.6,158.5 1197.9,172.2 1198.2,184.6 1198.4,195.8 1198.7,205.9 1199.0,215.0 1199.2,223.3 1199.5,230.8 1199.8,237.7 1200.1,243.9 1200.3,249.5 1200.6,254.7 1200.9,259.4 1201.1,263.7 1201.4,267.7 1201.7,271.3 1201.9,274.7 1202.2,277.8 1202.5,280.7 1202.7,283.3 1203.0,285.8 1203.3,288.1 1203.5,290.3 1203.8,292.3 1204.1,294.2 1204.4,296.1 1204.6,297.8 1204.9,299.4 1205.2,300.9 1205.4,302.4 1205.7,303.8 1206.0,305.2 1206.2,306.5 1206.5,307.8 1206.8,309.0 1207.0,310.2 1207.3,311.3 1207.6,312.4 1207.8,313.5 1208.1,314.6 1208.4,315.6 1208.6,316.6 1208.9,317.6 1209.2,318.6 1209.5,319.6 1209.7,320.6 1210.0,321.5 1210.3,322.4 1210.5,323.3 1210.8,324.3 1211.1,325.1 1211.3,326.0 1211.6,326.9 1211.9,327.8 1212.1,328.7 1212.4,329.5 1212.7,330.4 1212.9,331.2 1213.2,332.1 1213.5,332.9 1213.7,333.7 1214.0,334.5 1214.3,335.4 1214.6,336.2 1214.8,337.0 1215.1,337.8 1215.4,338.6 1215.6,339.4 1215.9,340.2 1216.2,341.0 1216.4,341.8 1216.7,342.5 1217.0,343.3 1217.2,344.1 1218.6,347.9 1219.9,351.7 1221.3,355.4 1222.6,359.0 1224.0,362.5 1225.3,366.0 1226.6,369.4 1228.0,372.8 1229.3,376.1 1230.7,379.3 1232.0,382.4 1233.4,385.5 1234.7,388.6 1236.0,391.6 1237.4,394.5 1238.7,397.4 1240.1,400.2 1241.4,403.0 1242.8,405.7 1244.1,408.4 1245.4,411.0 1246.8,413.6 1248.1,416.1 1249.5,418.6 1250.8,421.0 1252.2,423.4 1253.5,425.7 1254.8,428.0 1256.2,430.2 1257.5,432.5 1258.9,434.6 1260.2,436.8 1261.5,438.8 1262.9,440.9 1264.2,442.9 1265.6,444.9 1266.9,446.8 1268.3,448.7 1269.6,450.6 1270.9,452.4 1272.3,454.2 1273.6,456.0 1275.0,457.7 1276.3,459.4 1277.7,461.1 1279.0,462.7 1280.3,464.3 1281.7,465.9 1283.0,467.4 1284.4,468.9 1285.7,470.4 1287.1,471.9 1288.4,473.3 1289.7,474.7 1291.1,476.1 1292.4,477.4 1293.8,478.8 1295.1,480.1 1296.5,481.3 1297.8,482.6 1299.1,483.8 1300.5,485.0 1301.8,486.2 1303.2,487.4 1304.5,488.5 1305.9,489.6 1307.2,490.7 1308.5,491.8 1309.9,492.9 1311.2,493.9 1312.6,494.9 1313.9,495.9 1315.3,496.9 1316.6,497.9 1317.9,498.8 1319.3,499.8 1320.6,500.7 1322.0,501.6 1323.3,502.4 1324.7,503.3 1326.0,504.1 1327.3,505.0 1328.7,505.8 1330.0,506.6 1331.4,507.4 1332.7,508.1 1334.1,508.9 1335.4,509.6 1336.7,510.4 1338.1,511.1 1339.4,511.8 1340.8,512.5 1342.1,513.1 1343.5,513.8 1344.8,514.4 1346.1,515.1 1347.5,515.7 1348.8,516.3 1350.2,516.9 1351.5,517.5 1352.9,518.1 1354.2,518.6 1355.5,519.2 1356.9,519.8 1358.2,520.3 1359.6,520.8 1364.9,522.8 1370.3,524.7 1375.7,526.4 1381.0,528.0 1386.4,529.5 1391.8,530.9 1397.2,532.2 1402.5,533.3 1407.9,534.4 1413.3,535.5 1418.6,536.4 1424.0,537.3 1429.4,538.1 1434.8,538.9 1440.1,539.6 1445.5,540.2 1450.9,540.8 1456.2,541.4 1461.6,541.9 1467.0,542.4 1472.4,542.8 1477.7,543.2 1483.1,543.6 1488.5,543.9 1493.8,544.3 1499.2,544.6 1504.6,544.9 1509.9,545.1 1515.3,545.4 1520.7,545.6 1526.1,545.8 1531.4,546.0 1536.8,546.2 1542.2,546.3 1547.5,546.5 1552.9,546.6 1558.3,546.8 1563.7,546.9 1569.0,547.0 1574.4,547.1 1579.8,547.2 1585.1,547.3 1590.5,547.4 1595.9,547.5 1601.3,547.5 1606.6,547.6 1612.0,547.7 1617.4,547.7 1622.7,547.8 1628.1,547.8 1633.5,547.9 1638.8,547.9 1644.2,548.0 1649.6,548.0 1655.0,548.0 1660.3,548.1 1665.7,548.1 1671.1,548.1 1676.4,548.1 1679.6,548.2" fill="none" stroke="#f00" stroke-width="8.4" stroke-linecap="round" stroke-linejoin="round"/>
<g font-size="75.5">
<text x="1100.5" y="610.0" text-anchor="end">0</text>
<text x="1100.5" y="456.8" text-anchor="end">2</text>
<text x="1100.5" y="303.6" text-anchor="end">4</text>
<text x="1100.5" y="150.4" text-anchor="end">6</text>
<text x="1197.6" y="698.8" text-anchor="middle">0</text>
<text x="1331.9" y="698.8" text-anchor="middle">10</text>
<text x="1466.1" y="698.8" text-anchor="middle">20</text>
<text x="1600.4" y="698.8" text-anchor="middle">30</text>
<text x="1424.8" y="791.0" text-anchor="middle">t (μs)</text>
<text transform="translate(1029.3 346.4) rotate(-90)"><tspan x="-147.2" textLength="52.4" lengthAdjust="spacingAndGlyphs">Δ</tspan><tspan x="-95.2">A</tspan><tspan x="-42.2 -23.3 1.1 40.5"> (10</tspan><tspan x="80.4 94.7" dy="-35.0" font-size="47.6">-3</tspan><tspan x="119.0" dy="35.0">)</tspan></text>
</g>
</svg></body></html>
